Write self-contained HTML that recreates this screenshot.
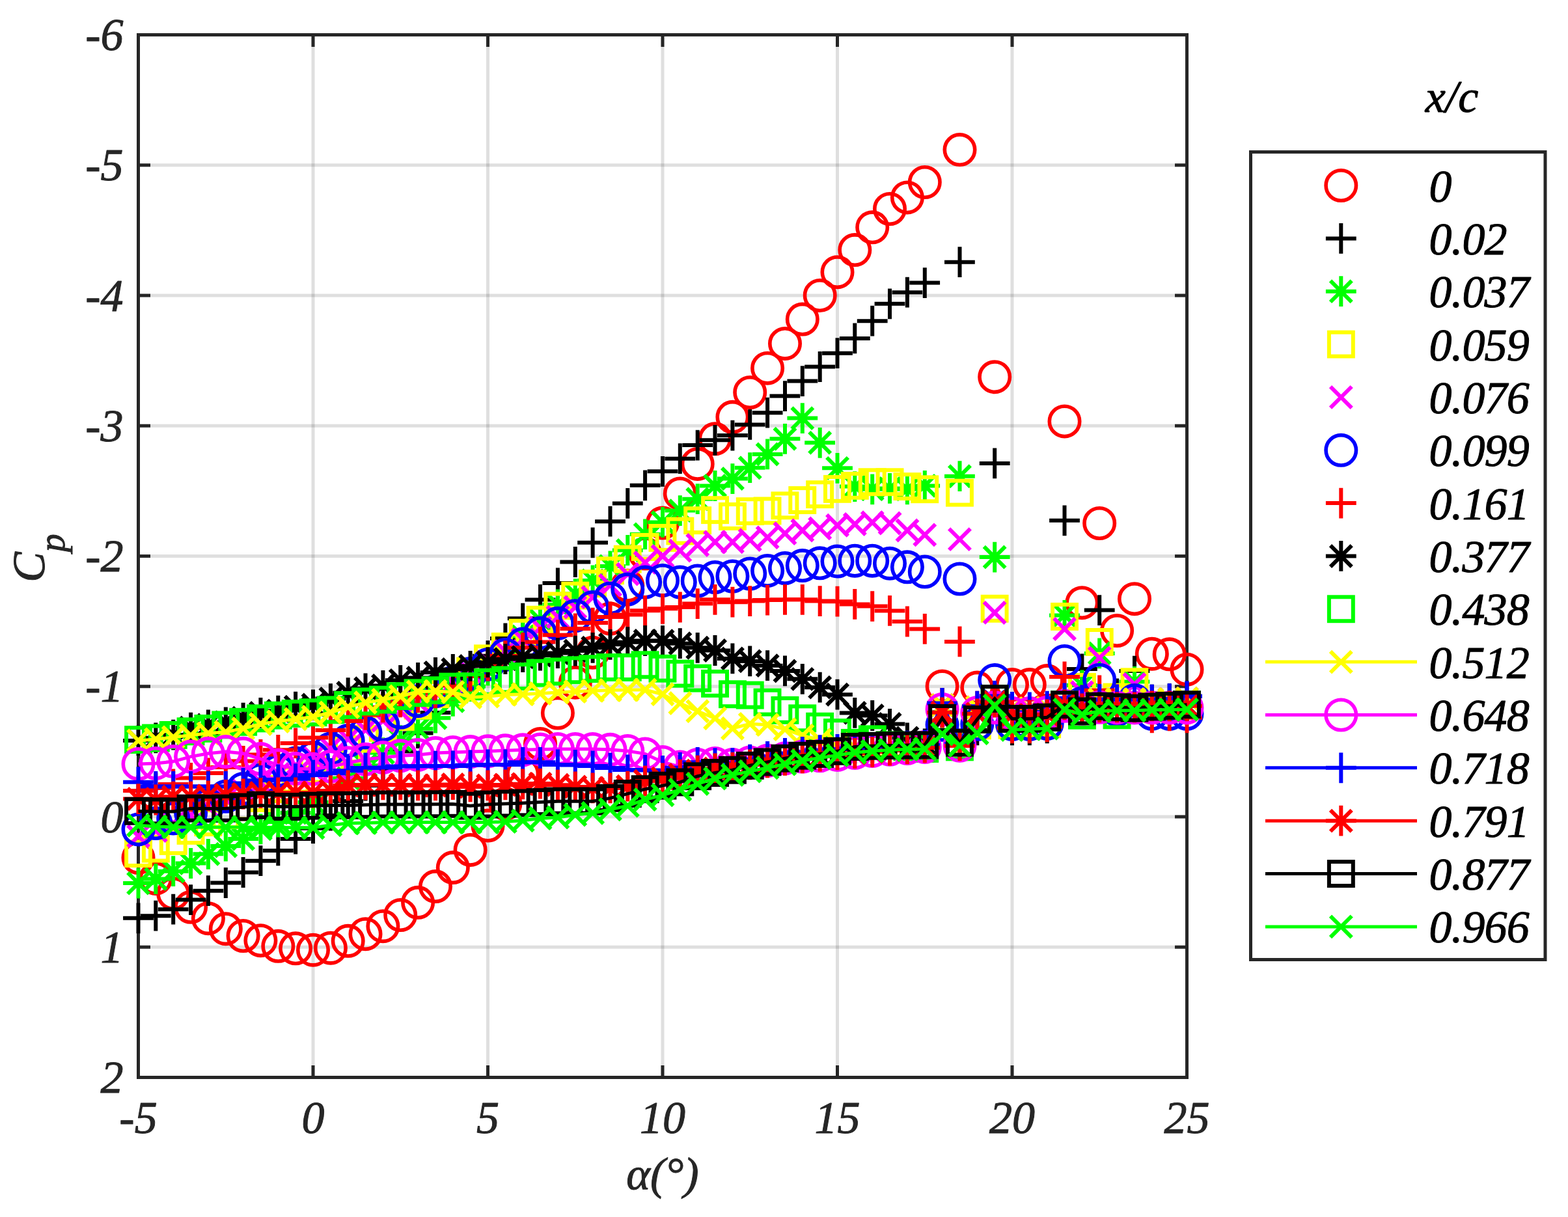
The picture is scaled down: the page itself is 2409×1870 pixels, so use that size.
<!DOCTYPE html>
<html lang="en"><head><meta charset="utf-8"><title>Cp vs alpha</title>
<style>html,body{margin:0;padding:0;background:#fff}svg{display:block}text{font-family:"Liberation Serif", "DejaVu Serif", serif;font-style:italic;stroke-width:1.0px;stroke-linejoin:round}</style></head><body>
<svg width="2409" height="1870" viewBox="0 0 2409 1870">
<rect width="2409" height="1870" fill="#fff"/>
<path d="M481 53.5V1655.5M749.5 53.5V1655.5M1018 53.5V1655.5M1286.5 53.5V1655.5M1555 53.5V1655.5" stroke="#262626" stroke-opacity="0.15" stroke-width="5.0" fill="none"/>
<path d="M212.5 253.8H1823.5M212.5 454H1823.5M212.5 654.2H1823.5M212.5 854.5H1823.5M212.5 1054.8H1823.5M212.5 1255H1823.5M212.5 1455.2H1823.5" stroke="#262626" stroke-opacity="0.15" stroke-width="5.0" fill="none"/>
<path d="M481 1655.5v-18.5M481 53.5v18.5M749.5 1655.5v-18.5M749.5 53.5v18.5M1018 1655.5v-18.5M1018 53.5v18.5M1286.5 1655.5v-18.5M1286.5 53.5v18.5M1555 1655.5v-18.5M1555 53.5v18.5M212.5 253.8h18.5M1823.5 253.8h-18.5M212.5 454h18.5M1823.5 454h-18.5M212.5 654.2h18.5M1823.5 654.2h-18.5M212.5 854.5h18.5M1823.5 854.5h-18.5M212.5 1054.8h18.5M1823.5 1054.8h-18.5M212.5 1255h18.5M1823.5 1255h-18.5M212.5 1455.2h18.5M1823.5 1455.2h-18.5" stroke="#262626" stroke-width="5.0" fill="none"/>
<rect x="212.5" y="53.5" width="1611" height="1602" fill="none" stroke="#262626" stroke-width="5.0"/>
<g fill="#262626" stroke="#262626" font-size="70">
<text x="189.5" y="77" text-anchor="end">-6</text>
<text x="189.5" y="277.2" text-anchor="end">-5</text>
<text x="189.5" y="477.5" text-anchor="end">-4</text>
<text x="189.5" y="677.8" text-anchor="end">-3</text>
<text x="189.5" y="878" text-anchor="end">-2</text>
<text x="189.5" y="1078.2" text-anchor="end">-1</text>
<text x="189.5" y="1278.5" text-anchor="end">0</text>
<text x="189.5" y="1478.8" text-anchor="end">1</text>
<text x="189.5" y="1679" text-anchor="end">2</text>
<text x="212.5" y="1740.6" text-anchor="middle">-5</text>
<text x="481" y="1740.6" text-anchor="middle">0</text>
<text x="749.5" y="1740.6" text-anchor="middle">5</text>
<text x="1018" y="1740.6" text-anchor="middle">10</text>
<text x="1286.5" y="1740.6" text-anchor="middle">15</text>
<text x="1555" y="1740.6" text-anchor="middle">20</text>
<text x="1823.5" y="1740.6" text-anchor="middle">25</text>
</g>
<text x="1018" y="1827" font-size="70" fill="#262626" stroke="#262626" text-anchor="middle">α(°)</text>
<g transform="translate(68,857.5) rotate(-90)" fill="#262626" stroke="#262626"><text x="0" y="0" font-size="70" text-anchor="middle">C<tspan font-size="56" dy="31.4">p</tspan></text></g>
<g stroke="#ff0000" fill="none" stroke-width="6.0">
<circle cx="212.5" cy="1318.1" r="23.2" stroke-width="5.6"/>
<circle cx="239.3" cy="1349.9" r="23.2" stroke-width="5.6"/>
<circle cx="266.2" cy="1373.1" r="23.2" stroke-width="5.6"/>
<circle cx="293.1" cy="1393.8" r="23.2" stroke-width="5.6"/>
<circle cx="319.9" cy="1411.2" r="23.2" stroke-width="5.6"/>
<circle cx="346.8" cy="1427.2" r="23.2" stroke-width="5.6"/>
<circle cx="373.6" cy="1438" r="23.2" stroke-width="5.6"/>
<circle cx="400.4" cy="1445.2" r="23.2" stroke-width="5.6"/>
<circle cx="427.3" cy="1453.8" r="23.2" stroke-width="5.6"/>
<circle cx="454.1" cy="1457.3" r="23.2" stroke-width="5.6"/>
<circle cx="481" cy="1459.7" r="23.2" stroke-width="5.6"/>
<circle cx="507.9" cy="1456.7" r="23.2" stroke-width="5.6"/>
<circle cx="534.7" cy="1445.8" r="23.2" stroke-width="5.6"/>
<circle cx="561.5" cy="1435.2" r="23.2" stroke-width="5.6"/>
<circle cx="588.4" cy="1423.2" r="23.2" stroke-width="5.6"/>
<circle cx="615.2" cy="1406" r="23.2" stroke-width="5.6"/>
<circle cx="642.1" cy="1386.8" r="23.2" stroke-width="5.6"/>
<circle cx="669" cy="1362.1" r="23.2" stroke-width="5.6"/>
<circle cx="695.8" cy="1333.1" r="23.2" stroke-width="5.6"/>
<circle cx="722.6" cy="1305.9" r="23.2" stroke-width="5.6"/>
<circle cx="749.5" cy="1268.6" r="23.2" stroke-width="5.6"/>
<circle cx="776.4" cy="1235" r="23.2" stroke-width="5.6"/>
<circle cx="803.2" cy="1188.9" r="23.2" stroke-width="5.6"/>
<circle cx="830" cy="1142.9" r="23.2" stroke-width="5.6"/>
<circle cx="856.9" cy="1095.6" r="23.2" stroke-width="5.6"/>
<circle cx="883.8" cy="1048.7" r="23.2" stroke-width="5.6"/>
<circle cx="910.6" cy="1002.7" r="23.2" stroke-width="5.6"/>
<circle cx="937.5" cy="950.6" r="23.2" stroke-width="5.6"/>
<circle cx="964.3" cy="899.8" r="23.2" stroke-width="5.6"/>
<circle cx="991.1" cy="850.5" r="23.2" stroke-width="5.6"/>
<circle cx="1018" cy="803.6" r="23.2" stroke-width="5.6"/>
<circle cx="1044.8" cy="758.4" r="23.2" stroke-width="5.6"/>
<circle cx="1071.7" cy="712.9" r="23.2" stroke-width="5.6"/>
<circle cx="1098.5" cy="674.3" r="23.2" stroke-width="5.6"/>
<circle cx="1125.4" cy="640.8" r="23.2" stroke-width="5.6"/>
<circle cx="1152.2" cy="603" r="23.2" stroke-width="5.6"/>
<circle cx="1179.1" cy="565.7" r="23.2" stroke-width="5.6"/>
<circle cx="1206" cy="527.9" r="23.2" stroke-width="5.6"/>
<circle cx="1232.8" cy="490.6" r="23.2" stroke-width="5.6"/>
<circle cx="1259.7" cy="454" r="23.2" stroke-width="5.6"/>
<circle cx="1286.5" cy="418.2" r="23.2" stroke-width="5.6"/>
<circle cx="1313.3" cy="384.1" r="23.2" stroke-width="5.6"/>
<circle cx="1340.2" cy="349.3" r="23.2" stroke-width="5.6"/>
<circle cx="1367" cy="321" r="23.2" stroke-width="5.6"/>
<circle cx="1393.9" cy="303.4" r="23.2" stroke-width="5.6"/>
<circle cx="1420.8" cy="280" r="23.2" stroke-width="5.6"/>
<circle cx="1447.6" cy="1054.5" r="23.2" stroke-width="5.6"/>
<circle cx="1474.5" cy="230.1" r="23.2" stroke-width="5.6"/>
<circle cx="1501.3" cy="1056.6" r="23.2" stroke-width="5.6"/>
<circle cx="1528.2" cy="579.2" r="23.2" stroke-width="5.6"/>
<circle cx="1555" cy="1052.1" r="23.2" stroke-width="5.6"/>
<circle cx="1581.8" cy="1052.1" r="23.2" stroke-width="5.6"/>
<circle cx="1608.7" cy="1046.1" r="23.2" stroke-width="5.6"/>
<circle cx="1635.5" cy="647.4" r="23.2" stroke-width="5.6"/>
<circle cx="1662.4" cy="926.2" r="23.2" stroke-width="5.6"/>
<circle cx="1689.2" cy="804" r="23.2" stroke-width="5.6"/>
<circle cx="1716.1" cy="969" r="23.2" stroke-width="5.6"/>
<circle cx="1743" cy="920.2" r="23.2" stroke-width="5.6"/>
<circle cx="1769.8" cy="1004.7" r="23.2" stroke-width="5.6"/>
<circle cx="1796.7" cy="1005.3" r="23.2" stroke-width="5.6"/>
<circle cx="1823.5" cy="1028.7" r="23.2" stroke-width="5.6"/>
</g>
<g stroke="#000000" fill="none" stroke-width="6.0">
<path d="M189.1 1410.8h46.8M212.5 1387.4v46.8"/>
<path d="M215.9 1407.2h46.8M239.3 1383.8v46.8"/>
<path d="M242.8 1397.2h46.8M266.2 1373.8v46.8"/>
<path d="M269.7 1382.6h46.8M293.1 1359.2v46.8"/>
<path d="M296.5 1368.7h46.8M319.9 1345.3v46.8"/>
<path d="M323.4 1356.5h46.8M346.8 1333.1v46.8"/>
<path d="M350.2 1340.5h46.8M373.6 1317.1v46.8"/>
<path d="M377.1 1322.7h46.8M400.4 1299.3v46.8"/>
<path d="M403.9 1306.9h46.8M427.3 1283.5v46.8"/>
<path d="M430.8 1289h46.8M454.1 1265.6v46.8"/>
<path d="M457.6 1272.8h46.8M481 1249.4v46.8"/>
<path d="M484.5 1253h46.8M507.9 1229.6v46.8"/>
<path d="M511.3 1231h46.8M534.7 1207.6v46.8"/>
<path d="M538.1 1207.1h46.8M561.5 1183.7v46.8"/>
<path d="M565 1181.5h46.8M588.4 1158.1v46.8"/>
<path d="M591.9 1154.6h46.8M615.2 1131.2v46.8"/>
<path d="M618.7 1126.6h46.8M642.1 1103.2v46.8"/>
<path d="M645.6 1095h46.8M669 1071.6v46.8"/>
<path d="M672.4 1063.6h46.8M695.8 1040.2v46.8"/>
<path d="M699.2 1034.7h46.8M722.6 1011.3v46.8"/>
<path d="M726.1 1007.7h46.8M749.5 984.3v46.8"/>
<path d="M753 980.9h46.8M776.4 957.5v46.8"/>
<path d="M779.8 950.2h46.8M803.2 926.8v46.8"/>
<path d="M806.6 921.4h46.8M830 898v46.8"/>
<path d="M833.5 896h46.8M856.9 872.6v46.8"/>
<path d="M860.4 863.5h46.8M883.8 840.1v46.8"/>
<path d="M887.2 833.8h46.8M910.6 810.4v46.8"/>
<path d="M914.1 801.2h46.8M937.5 777.8v46.8"/>
<path d="M940.9 773.4h46.8M964.3 750v46.8"/>
<path d="M967.8 745.8h46.8M991.1 722.4v46.8"/>
<path d="M994.6 724.3h46.8M1018 700.9v46.8"/>
<path d="M1021.4 704.7h46.8M1044.8 681.3v46.8"/>
<path d="M1048.3 684.1h46.8M1071.7 660.7v46.8"/>
<path d="M1075.1 676.3h46.8M1098.5 652.9v46.8"/>
<path d="M1102 669.1h46.8M1125.4 645.7v46.8"/>
<path d="M1128.8 652.4h46.8M1152.2 629v46.8"/>
<path d="M1155.7 634.2h46.8M1179.1 610.8v46.8"/>
<path d="M1182.5 608.6h46.8M1206 585.2v46.8"/>
<path d="M1209.4 585.6h46.8M1232.8 562.2v46.8"/>
<path d="M1236.2 563.5h46.8M1259.7 540.1v46.8"/>
<path d="M1263.1 542.7h46.8M1286.5 519.3v46.8"/>
<path d="M1289.9 519.9h46.8M1313.3 496.5v46.8"/>
<path d="M1316.8 493.2h46.8M1340.2 469.8v46.8"/>
<path d="M1343.6 466.8h46.8M1367 443.4v46.8"/>
<path d="M1370.5 449.2h46.8M1393.9 425.8v46.8"/>
<path d="M1397.3 434.6h46.8M1420.8 411.2v46.8"/>
<path d="M1424.2 1080.4h46.8M1447.6 1057v46.8"/>
<path d="M1451 402.7h46.8M1474.5 379.3v46.8"/>
<path d="M1477.9 1121.8h46.8M1501.3 1098.4v46.8"/>
<path d="M1504.8 711.9h46.8M1528.2 688.5v46.8"/>
<path d="M1531.6 1121.8h46.8M1555 1098.4v46.8"/>
<path d="M1558.4 1121.8h46.8M1581.8 1098.4v46.8"/>
<path d="M1585.3 1118.8h46.8M1608.7 1095.4v46.8"/>
<path d="M1612.1 799.8h46.8M1635.5 776.4v46.8"/>
<path d="M1639 1027.9h46.8M1662.4 1004.5v46.8"/>
<path d="M1665.8 937.6h46.8M1689.2 914.2v46.8"/>
<path d="M1692.7 1065.8h46.8M1716.1 1042.4v46.8"/>
<path d="M1719.5 1031.1h46.8M1743 1007.7v46.8"/>
<path d="M1746.4 1075.2h46.8M1769.8 1051.8v46.8"/>
<path d="M1773.2 1073.6h46.8M1796.7 1050.2v46.8"/>
<path d="M1800.1 1069.8h46.8M1823.5 1046.4v46.8"/>
</g>
<g stroke="#00ff00" fill="none" stroke-width="6.0">
<path d="M189.1 1357.1h46.8M212.5 1333.7v46.8M196.2 1340.8l32.7 32.7M196.2 1373.5l32.7 -32.7"/>
<path d="M215.9 1350.5h46.8M239.3 1327.1v46.8M223 1334.2l32.7 32.7M223 1366.9l32.7 -32.7"/>
<path d="M242.8 1338.7h46.8M266.2 1315.3v46.8M249.9 1322.4l32.7 32.7M249.9 1355l32.7 -32.7"/>
<path d="M269.7 1326.5h46.8M293.1 1303.1v46.8M276.7 1310.2l32.7 32.7M276.7 1342.8l32.7 -32.7"/>
<path d="M296.5 1312.3h46.8M319.9 1288.9v46.8M303.6 1295.9l32.7 32.7M303.6 1328.6l32.7 -32.7"/>
<path d="M323.4 1300h46.8M346.8 1276.6v46.8M330.4 1283.6l32.7 32.7M330.4 1316.3l32.7 -32.7"/>
<path d="M350.2 1289h46.8M373.6 1265.6v46.8M357.3 1272.7l32.7 32.7M357.3 1305.4l32.7 -32.7"/>
<path d="M377.1 1273.8h46.8M400.4 1250.4v46.8M384.1 1257.5l32.7 32.7M384.1 1290.2l32.7 -32.7"/>
<path d="M403.9 1263h46.8M427.3 1239.6v46.8M411 1246.7l32.7 32.7M411 1279.3l32.7 -32.7"/>
<path d="M430.8 1249h46.8M454.1 1225.6v46.8M437.8 1232.7l32.7 32.7M437.8 1265.4l32.7 -32.7"/>
<path d="M457.6 1232.8h46.8M481 1209.4v46.8M464.7 1216.5l32.7 32.7M464.7 1249.1l32.7 -32.7"/>
<path d="M484.5 1214.9h46.8M507.9 1191.5v46.8M491.5 1198.5l32.7 32.7M491.5 1231.2l32.7 -32.7"/>
<path d="M511.3 1195.8h46.8M534.7 1172.4v46.8M518.4 1179.5l32.7 32.7M518.4 1212.2l32.7 -32.7"/>
<path d="M538.1 1176.2h46.8M561.5 1152.8v46.8M545.2 1159.9l32.7 32.7M545.2 1192.6l32.7 -32.7"/>
<path d="M565 1156.7h46.8M588.4 1133.3v46.8M572.1 1140.3l32.7 32.7M572.1 1173l32.7 -32.7"/>
<path d="M591.9 1137.7h46.8M615.2 1114.3v46.8M598.9 1121.3l32.7 32.7M598.9 1154l32.7 -32.7"/>
<path d="M618.7 1119.8h46.8M642.1 1096.4v46.8M625.8 1103.5l32.7 32.7M625.8 1136.2l32.7 -32.7"/>
<path d="M645.6 1103.2h46.8M669 1079.8v46.8M652.6 1086.9l32.7 32.7M652.6 1119.5l32.7 -32.7"/>
<path d="M672.4 1077.4h46.8M695.8 1054v46.8M679.5 1061l32.7 32.7M679.5 1093.7l32.7 -32.7"/>
<path d="M699.2 1054.8h46.8M722.6 1031.3v46.8M706.3 1038.4l32.7 32.7M706.3 1071.1l32.7 -32.7"/>
<path d="M726.1 1030h46.8M749.5 1006.6v46.8M733.2 1013.7l32.7 32.7M733.2 1046.4l32.7 -32.7"/>
<path d="M753 1004h46.8M776.4 980.6v46.8M760 987.7l32.7 32.7M760 1020.3l32.7 -32.7"/>
<path d="M779.8 977.8h46.8M803.2 954.4v46.8M786.9 961.5l32.7 32.7M786.9 994.2l32.7 -32.7"/>
<path d="M806.6 952.6h46.8M830 929.2v46.8M813.7 936.3l32.7 32.7M813.7 969l32.7 -32.7"/>
<path d="M833.5 929h46.8M856.9 905.6v46.8M840.6 912.7l32.7 32.7M840.6 945.3l32.7 -32.7"/>
<path d="M860.4 912.6h46.8M883.8 889.2v46.8M867.4 896.2l32.7 32.7M867.4 928.9l32.7 -32.7"/>
<path d="M887.2 891.9h46.8M910.6 868.5v46.8M894.3 875.6l32.7 32.7M894.3 908.3l32.7 -32.7"/>
<path d="M914.1 869.9h46.8M937.5 846.5v46.8M921.1 853.6l32.7 32.7M921.1 886.3l32.7 -32.7"/>
<path d="M940.9 845.5h46.8M964.3 822.1v46.8M948 829.2l32.7 32.7M948 861.8l32.7 -32.7"/>
<path d="M967.8 820.9h46.8M991.1 797.5v46.8M974.8 804.5l32.7 32.7M974.8 837.2l32.7 -32.7"/>
<path d="M994.6 802.4h46.8M1018 779v46.8M1001.7 786.1l32.7 32.7M1001.7 818.8l32.7 -32.7"/>
<path d="M1021.4 784.6h46.8M1044.8 761.2v46.8M1028.5 768.3l32.7 32.7M1028.5 800.9l32.7 -32.7"/>
<path d="M1048.3 766.7h46.8M1071.7 743.3v46.8M1055.4 750.4l32.7 32.7M1055.4 783l32.7 -32.7"/>
<path d="M1075.1 746.5h46.8M1098.5 723.1v46.8M1082.2 730.1l32.7 32.7M1082.2 762.8l32.7 -32.7"/>
<path d="M1102 735.6h46.8M1125.4 712.2v46.8M1109.1 719.2l32.7 32.7M1109.1 751.9l32.7 -32.7"/>
<path d="M1128.8 718.7h46.8M1152.2 695.3v46.8M1135.9 702.4l32.7 32.7M1135.9 735.1l32.7 -32.7"/>
<path d="M1155.7 697.9h46.8M1179.1 674.5v46.8M1162.8 681.6l32.7 32.7M1162.8 714.2l32.7 -32.7"/>
<path d="M1182.5 674.3h46.8M1206 650.9v46.8M1189.6 657.9l32.7 32.7M1189.6 690.6l32.7 -32.7"/>
<path d="M1209.4 642.6h46.8M1232.8 619.2v46.8M1216.5 626.3l32.7 32.7M1216.5 659l32.7 -32.7"/>
<path d="M1236.2 680.3h46.8M1259.7 656.9v46.8M1243.3 663.9l32.7 32.7M1243.3 696.6l32.7 -32.7"/>
<path d="M1263.1 719.3h46.8M1286.5 695.9v46.8M1270.2 703l32.7 32.7M1270.2 735.7l32.7 -32.7"/>
<path d="M1289.9 747.6h46.8M1313.3 724.2v46.8M1297 731.2l32.7 32.7M1297 763.9l32.7 -32.7"/>
<path d="M1316.8 751.8h46.8M1340.2 728.4v46.8M1323.9 735.4l32.7 32.7M1323.9 768.1l32.7 -32.7"/>
<path d="M1343.6 750.4h46.8M1367 727v46.8M1350.7 734l32.7 32.7M1350.7 766.7l32.7 -32.7"/>
<path d="M1370.5 751.8h46.8M1393.9 728.4v46.8M1377.6 735.4l32.7 32.7M1377.6 768.1l32.7 -32.7"/>
<path d="M1397.3 746.4h46.8M1420.8 723v46.8M1404.4 730l32.7 32.7M1404.4 762.7l32.7 -32.7"/>
<path d="M1424.2 1094.8h46.8M1447.6 1071.4v46.8M1431.3 1078.5l32.7 32.7M1431.3 1111.1l32.7 -32.7"/>
<path d="M1451 731.7h46.8M1474.5 708.3v46.8M1458.1 715.4l32.7 32.7M1458.1 748.1l32.7 -32.7"/>
<path d="M1477.9 1096.8h46.8M1501.3 1073.4v46.8M1485 1080.5l32.7 32.7M1485 1113.1l32.7 -32.7"/>
<path d="M1504.8 856.1h46.8M1528.2 832.7v46.8M1511.8 839.8l32.7 32.7M1511.8 872.4l32.7 -32.7"/>
<path d="M1531.6 1098.8h46.8M1555 1075.4v46.8M1538.7 1082.5l32.7 32.7M1538.7 1115.1l32.7 -32.7"/>
<path d="M1558.4 1098.8h46.8M1581.8 1075.4v46.8M1565.5 1082.5l32.7 32.7M1565.5 1115.1l32.7 -32.7"/>
<path d="M1585.3 1097.8h46.8M1608.7 1074.4v46.8M1592.4 1081.5l32.7 32.7M1592.4 1114.1l32.7 -32.7"/>
<path d="M1612.1 945.4h46.8M1635.5 922v46.8M1619.2 929.1l32.7 32.7M1619.2 961.7l32.7 -32.7"/>
<path d="M1639 1052.9h46.8M1662.4 1029.5v46.8M1646.1 1036.6l32.7 32.7M1646.1 1069.3l32.7 -32.7"/>
<path d="M1665.8 1003.9h46.8M1689.2 980.5v46.8M1672.9 987.6l32.7 32.7M1672.9 1020.2l32.7 -32.7"/>
<path d="M1692.7 1086.8h46.8M1716.1 1063.4v46.8M1699.8 1070.5l32.7 32.7M1699.8 1103.1l32.7 -32.7"/>
<path d="M1719.5 1047.5h46.8M1743 1024.1v46.8M1726.6 1031.2l32.7 32.7M1726.6 1063.9l32.7 -32.7"/>
<path d="M1746.4 1084.8h46.8M1769.8 1061.4v46.8M1753.5 1068.5l32.7 32.7M1753.5 1101.1l32.7 -32.7"/>
<path d="M1773.2 1084.8h46.8M1796.7 1061.4v46.8M1780.3 1068.5l32.7 32.7M1780.3 1101.1l32.7 -32.7"/>
<path d="M1800.1 1084.8h46.8M1823.5 1061.4v46.8M1807.2 1068.5l32.7 32.7M1807.2 1101.1l32.7 -32.7"/>
</g>
<g stroke="#ffff00" fill="none" stroke-width="6.0">
<rect x="194.1" y="1293.2" width="36.9" height="36.9"/>
<rect x="220.9" y="1285.6" width="36.9" height="36.9"/>
<rect x="247.8" y="1274" width="36.9" height="36.9"/>
<rect x="274.6" y="1258" width="36.9" height="36.9"/>
<rect x="301.4" y="1245.2" width="36.9" height="36.9"/>
<rect x="328.3" y="1234.1" width="36.9" height="36.9"/>
<rect x="355.2" y="1221.5" width="36.9" height="36.9"/>
<rect x="382" y="1208.1" width="36.9" height="36.9"/>
<rect x="408.9" y="1194.1" width="36.9" height="36.9"/>
<rect x="435.7" y="1179.6" width="36.9" height="36.9"/>
<rect x="462.6" y="1164.6" width="36.9" height="36.9"/>
<rect x="489.4" y="1149" width="36.9" height="36.9"/>
<rect x="516.2" y="1133.1" width="36.9" height="36.9"/>
<rect x="543.1" y="1116.7" width="36.9" height="36.9"/>
<rect x="569.9" y="1100" width="36.9" height="36.9"/>
<rect x="596.8" y="1082.9" width="36.9" height="36.9"/>
<rect x="623.6" y="1065.7" width="36.9" height="36.9"/>
<rect x="650.5" y="1048.2" width="36.9" height="36.9"/>
<rect x="677.3" y="1030.5" width="36.9" height="36.9"/>
<rect x="704.2" y="1012.7" width="36.9" height="36.9"/>
<rect x="731" y="993.4" width="36.9" height="36.9"/>
<rect x="757.9" y="975" width="36.9" height="36.9"/>
<rect x="784.8" y="953.8" width="36.9" height="36.9"/>
<rect x="811.6" y="933.8" width="36.9" height="36.9"/>
<rect x="838.4" y="912.5" width="36.9" height="36.9"/>
<rect x="865.3" y="896.7" width="36.9" height="36.9"/>
<rect x="892.1" y="878.3" width="36.9" height="36.9"/>
<rect x="919" y="858.3" width="36.9" height="36.9"/>
<rect x="945.8" y="840.7" width="36.9" height="36.9"/>
<rect x="972.7" y="822" width="36.9" height="36.9"/>
<rect x="999.5" y="808" width="36.9" height="36.9"/>
<rect x="1026.4" y="797.6" width="36.9" height="36.9"/>
<rect x="1053.2" y="781.2" width="36.9" height="36.9"/>
<rect x="1080.1" y="765.2" width="36.9" height="36.9"/>
<rect x="1107" y="775" width="36.9" height="36.9"/>
<rect x="1133.8" y="767.2" width="36.9" height="36.9"/>
<rect x="1160.6" y="766.5" width="36.9" height="36.9"/>
<rect x="1187.5" y="758.4" width="36.9" height="36.9"/>
<rect x="1214.3" y="750.1" width="36.9" height="36.9"/>
<rect x="1241.2" y="741.2" width="36.9" height="36.9"/>
<rect x="1268" y="732.9" width="36.9" height="36.9"/>
<rect x="1294.9" y="727.9" width="36.9" height="36.9"/>
<rect x="1321.8" y="722.3" width="36.9" height="36.9"/>
<rect x="1348.6" y="722.3" width="36.9" height="36.9"/>
<rect x="1375.5" y="729.1" width="36.9" height="36.9"/>
<rect x="1402.3" y="733.3" width="36.9" height="36.9"/>
<rect x="1429.1" y="1085" width="36.9" height="36.9"/>
<rect x="1456" y="738.7" width="36.9" height="36.9"/>
<rect x="1482.8" y="1096.4" width="36.9" height="36.9"/>
<rect x="1509.7" y="916.8" width="36.9" height="36.9"/>
<rect x="1536.5" y="1095.8" width="36.9" height="36.9"/>
<rect x="1563.4" y="1095.8" width="36.9" height="36.9"/>
<rect x="1590.2" y="1094.4" width="36.9" height="36.9"/>
<rect x="1617.1" y="929" width="36.9" height="36.9"/>
<rect x="1644" y="1037.1" width="36.9" height="36.9"/>
<rect x="1670.8" y="968" width="36.9" height="36.9"/>
<rect x="1697.6" y="1052.7" width="36.9" height="36.9"/>
<rect x="1724.5" y="1029.3" width="36.9" height="36.9"/>
<rect x="1751.3" y="1067.5" width="36.9" height="36.9"/>
<rect x="1778.2" y="1065.9" width="36.9" height="36.9"/>
<rect x="1805" y="1064.3" width="36.9" height="36.9"/>
</g>
<g stroke="#ff00ff" fill="none" stroke-width="6.0">
<path d="M196.2 1268.5l32.7 32.7M196.2 1301.2l32.7 -32.7"/>
<path d="M223 1260.3l32.7 32.7M223 1293l32.7 -32.7"/>
<path d="M249.9 1248.7l32.7 32.7M249.9 1281.3l32.7 -32.7"/>
<path d="M276.7 1236.3l32.7 32.7M276.7 1269l32.7 -32.7"/>
<path d="M303.6 1223.8l32.7 32.7M303.6 1256.5l32.7 -32.7"/>
<path d="M330.4 1211.3l32.7 32.7M330.4 1243.9l32.7 -32.7"/>
<path d="M357.3 1198.6l32.7 32.7M357.3 1231.3l32.7 -32.7"/>
<path d="M384.1 1185.8l32.7 32.7M384.1 1218.4l32.7 -32.7"/>
<path d="M411 1172.8l32.7 32.7M411 1205.5l32.7 -32.7"/>
<path d="M437.8 1159.7l32.7 32.7M437.8 1192.3l32.7 -32.7"/>
<path d="M464.7 1146.4l32.7 32.7M464.7 1179l32.7 -32.7"/>
<path d="M491.5 1132.9l32.7 32.7M491.5 1165.5l32.7 -32.7"/>
<path d="M518.4 1119.2l32.7 32.7M518.4 1151.8l32.7 -32.7"/>
<path d="M545.2 1105.2l32.7 32.7M545.2 1137.9l32.7 -32.7"/>
<path d="M572.1 1091.1l32.7 32.7M572.1 1123.7l32.7 -32.7"/>
<path d="M598.9 1076.7l32.7 32.7M598.9 1109.3l32.7 -32.7"/>
<path d="M625.8 1062l32.7 32.7M625.8 1094.7l32.7 -32.7"/>
<path d="M652.6 1047.1l32.7 32.7M652.6 1079.8l32.7 -32.7"/>
<path d="M679.5 1031.9l32.7 32.7M679.5 1064.5l32.7 -32.7"/>
<path d="M706.3 1016.3l32.7 32.7M706.3 1049l32.7 -32.7"/>
<path d="M733.2 1000.5l32.7 32.7M733.2 1033.2l32.7 -32.7"/>
<path d="M760 984.3l32.7 32.7M760 1017l32.7 -32.7"/>
<path d="M786.9 966.3l32.7 32.7M786.9 999l32.7 -32.7"/>
<path d="M813.7 948.3l32.7 32.7M813.7 981l32.7 -32.7"/>
<path d="M840.6 931.7l32.7 32.7M840.6 964.4l32.7 -32.7"/>
<path d="M867.4 916.7l32.7 32.7M867.4 949.3l32.7 -32.7"/>
<path d="M894.3 901.4l32.7 32.7M894.3 934.1l32.7 -32.7"/>
<path d="M921.1 883l32.7 32.7M921.1 915.7l32.7 -32.7"/>
<path d="M948 865.8l32.7 32.7M948 898.5l32.7 -32.7"/>
<path d="M974.8 848.2l32.7 32.7M974.8 880.8l32.7 -32.7"/>
<path d="M1001.7 838.2l32.7 32.7M1001.7 870.8l32.7 -32.7"/>
<path d="M1028.5 829.8l32.7 32.7M1028.5 862.4l32.7 -32.7"/>
<path d="M1055.4 821.1l32.7 32.7M1055.4 853.8l32.7 -32.7"/>
<path d="M1082.2 816.5l32.7 32.7M1082.2 849.2l32.7 -32.7"/>
<path d="M1109.1 816.5l32.7 32.7M1109.1 849.2l32.7 -32.7"/>
<path d="M1135.9 813.3l32.7 32.7M1135.9 846l32.7 -32.7"/>
<path d="M1162.8 809.5l32.7 32.7M1162.8 842.2l32.7 -32.7"/>
<path d="M1189.6 803.3l32.7 32.7M1189.6 836l32.7 -32.7"/>
<path d="M1216.5 798.6l32.7 32.7M1216.5 831.3l32.7 -32.7"/>
<path d="M1243.3 795.5l32.7 32.7M1243.3 828.2l32.7 -32.7"/>
<path d="M1270.2 790.9l32.7 32.7M1270.2 823.6l32.7 -32.7"/>
<path d="M1297 789.1l32.7 32.7M1297 821.8l32.7 -32.7"/>
<path d="M1323.9 786.3l32.7 32.7M1323.9 819l32.7 -32.7"/>
<path d="M1350.7 787.7l32.7 32.7M1350.7 820.4l32.7 -32.7"/>
<path d="M1377.6 798.7l32.7 32.7M1377.6 831.4l32.7 -32.7"/>
<path d="M1404.4 805.5l32.7 32.7M1404.4 838.2l32.7 -32.7"/>
<path d="M1431.3 1067.1l32.7 32.7M1431.3 1099.7l32.7 -32.7"/>
<path d="M1458.1 812.3l32.7 32.7M1458.1 845l32.7 -32.7"/>
<path d="M1485 1070.5l32.7 32.7M1485 1103.1l32.7 -32.7"/>
<path d="M1511.8 925.1l32.7 32.7M1511.8 957.7l32.7 -32.7"/>
<path d="M1538.7 1072.5l32.7 32.7M1538.7 1105.1l32.7 -32.7"/>
<path d="M1565.5 1072.5l32.7 32.7M1565.5 1105.1l32.7 -32.7"/>
<path d="M1592.4 1071.5l32.7 32.7M1592.4 1104.1l32.7 -32.7"/>
<path d="M1619.2 950.1l32.7 32.7M1619.2 982.8l32.7 -32.7"/>
<path d="M1646.1 1047.4l32.7 32.7M1646.1 1080.1l32.7 -32.7"/>
<path d="M1672.9 994.6l32.7 32.7M1672.9 1027.2l32.7 -32.7"/>
<path d="M1699.8 1058.4l32.7 32.7M1699.8 1091.1l32.7 -32.7"/>
<path d="M1726.6 1035l32.7 32.7M1726.6 1067.7l32.7 -32.7"/>
<path d="M1753.5 1058.4l32.7 32.7M1753.5 1091.1l32.7 -32.7"/>
<path d="M1780.3 1057.8l32.7 32.7M1780.3 1090.5l32.7 -32.7"/>
<path d="M1807.2 1056.8l32.7 32.7M1807.2 1089.5l32.7 -32.7"/>
</g>
<g stroke="#0000ff" fill="none" stroke-width="6.0">
<circle cx="212.5" cy="1274.4" r="23.2" stroke-width="5.6"/>
<circle cx="239.3" cy="1265" r="23.2" stroke-width="5.6"/>
<circle cx="266.2" cy="1257.4" r="23.2" stroke-width="5.6"/>
<circle cx="293.1" cy="1249" r="23.2" stroke-width="5.6"/>
<circle cx="319.9" cy="1237" r="23.2" stroke-width="5.6"/>
<circle cx="346.8" cy="1223.8" r="23.2" stroke-width="5.6"/>
<circle cx="373.6" cy="1211.9" r="23.2" stroke-width="5.6"/>
<circle cx="400.4" cy="1198.4" r="23.2" stroke-width="5.6"/>
<circle cx="427.3" cy="1184.3" r="23.2" stroke-width="5.6"/>
<circle cx="454.1" cy="1172.4" r="23.2" stroke-width="5.6"/>
<circle cx="481" cy="1164.1" r="23.2" stroke-width="5.6"/>
<circle cx="507.9" cy="1150.5" r="23.2" stroke-width="5.6"/>
<circle cx="534.7" cy="1138.1" r="23.2" stroke-width="5.6"/>
<circle cx="561.5" cy="1125.6" r="23.2" stroke-width="5.6"/>
<circle cx="588.4" cy="1114" r="23.2" stroke-width="5.6"/>
<circle cx="615.2" cy="1094.8" r="23.2" stroke-width="5.6"/>
<circle cx="642.1" cy="1077.2" r="23.2" stroke-width="5.6"/>
<circle cx="669" cy="1062.1" r="23.2" stroke-width="5.6"/>
<circle cx="695.8" cy="1048.4" r="23.2" stroke-width="5.6"/>
<circle cx="722.6" cy="1034.9" r="23.2" stroke-width="5.6"/>
<circle cx="749.5" cy="1020.9" r="23.2" stroke-width="5.6"/>
<circle cx="776.4" cy="1005.9" r="23.2" stroke-width="5.6"/>
<circle cx="803.2" cy="989.5" r="23.2" stroke-width="5.6"/>
<circle cx="830" cy="972.8" r="23.2" stroke-width="5.6"/>
<circle cx="856.9" cy="957.8" r="23.2" stroke-width="5.6"/>
<circle cx="883.8" cy="946.2" r="23.2" stroke-width="5.6"/>
<circle cx="910.6" cy="933" r="23.2" stroke-width="5.6"/>
<circle cx="937.5" cy="919.4" r="23.2" stroke-width="5.6"/>
<circle cx="964.3" cy="905.6" r="23.2" stroke-width="5.6"/>
<circle cx="991.1" cy="894.6" r="23.2" stroke-width="5.6"/>
<circle cx="1018" cy="891.9" r="23.2" stroke-width="5.6"/>
<circle cx="1044.8" cy="894.6" r="23.2" stroke-width="5.6"/>
<circle cx="1071.7" cy="892.5" r="23.2" stroke-width="5.6"/>
<circle cx="1098.5" cy="887" r="23.2" stroke-width="5.6"/>
<circle cx="1125.4" cy="885.5" r="23.2" stroke-width="5.6"/>
<circle cx="1152.2" cy="881.5" r="23.2" stroke-width="5.6"/>
<circle cx="1179.1" cy="876.9" r="23.2" stroke-width="5.6"/>
<circle cx="1206" cy="873" r="23.2" stroke-width="5.6"/>
<circle cx="1232.8" cy="869.1" r="23.2" stroke-width="5.6"/>
<circle cx="1259.7" cy="865.3" r="23.2" stroke-width="5.6"/>
<circle cx="1286.5" cy="862.5" r="23.2" stroke-width="5.6"/>
<circle cx="1313.3" cy="861.7" r="23.2" stroke-width="5.6"/>
<circle cx="1340.2" cy="861.7" r="23.2" stroke-width="5.6"/>
<circle cx="1367" cy="865.7" r="23.2" stroke-width="5.6"/>
<circle cx="1393.9" cy="871.3" r="23.2" stroke-width="5.6"/>
<circle cx="1420.8" cy="878.5" r="23.2" stroke-width="5.6"/>
<circle cx="1447.6" cy="1113.8" r="23.2" stroke-width="5.6"/>
<circle cx="1474.5" cy="889.5" r="23.2" stroke-width="5.6"/>
<circle cx="1501.3" cy="1112.8" r="23.2" stroke-width="5.6"/>
<circle cx="1528.2" cy="1045.1" r="23.2" stroke-width="5.6"/>
<circle cx="1555" cy="1112.8" r="23.2" stroke-width="5.6"/>
<circle cx="1581.8" cy="1112.8" r="23.2" stroke-width="5.6"/>
<circle cx="1608.7" cy="1111.8" r="23.2" stroke-width="5.6"/>
<circle cx="1635.5" cy="1015.9" r="23.2" stroke-width="5.6"/>
<circle cx="1662.4" cy="1080.6" r="23.2" stroke-width="5.6"/>
<circle cx="1689.2" cy="1044.7" r="23.2" stroke-width="5.6"/>
<circle cx="1716.1" cy="1090.8" r="23.2" stroke-width="5.6"/>
<circle cx="1743" cy="1076" r="23.2" stroke-width="5.6"/>
<circle cx="1769.8" cy="1096.8" r="23.2" stroke-width="5.6"/>
<circle cx="1796.7" cy="1096.8" r="23.2" stroke-width="5.6"/>
<circle cx="1823.5" cy="1096.8" r="23.2" stroke-width="5.6"/>
</g>
<g stroke="#ff0000" fill="none" stroke-width="6.0">
<path d="M189.1 1215h46.8M212.5 1191.5v46.8"/>
<path d="M215.9 1211.1h46.8M239.3 1187.7v46.8"/>
<path d="M242.8 1204.9h46.8M266.2 1181.5v46.8"/>
<path d="M269.7 1195.5h46.8M293.1 1172.1v46.8"/>
<path d="M296.5 1187.9h46.8M319.9 1164.5v46.8"/>
<path d="M323.4 1179.1h46.8M346.8 1155.7v46.8"/>
<path d="M350.2 1169.5h46.8M373.6 1146.1v46.8"/>
<path d="M377.1 1159.5h46.8M400.4 1136.1v46.8"/>
<path d="M403.9 1152.3h46.8M427.3 1128.9v46.8"/>
<path d="M430.8 1141.9h46.8M454.1 1118.5v46.8"/>
<path d="M457.6 1133.6h46.8M481 1110.2v46.8"/>
<path d="M484.5 1122h46.8M507.9 1098.6v46.8"/>
<path d="M511.3 1108.1h46.8M534.7 1084.7v46.8"/>
<path d="M538.1 1098.4h46.8M561.5 1075v46.8"/>
<path d="M565 1086.8h46.8M588.4 1063.4v46.8"/>
<path d="M591.9 1078.8h46.8M615.2 1055.4v46.8"/>
<path d="M618.7 1071.8h46.8M642.1 1048.4v46.8"/>
<path d="M645.6 1064.8h46.8M669 1041.4v46.8"/>
<path d="M672.4 1053.6h46.8M695.8 1030.2v46.8"/>
<path d="M699.2 1039h46.8M722.6 1015.6v46.8"/>
<path d="M726.1 1023h46.8M749.5 999.6v46.8"/>
<path d="M753 1007.7h46.8M776.4 984.3v46.8"/>
<path d="M779.8 995.3h46.8M803.2 971.9v46.8"/>
<path d="M806.6 986.5h46.8M830 963.1v46.8"/>
<path d="M833.5 975.7h46.8M856.9 952.3v46.8"/>
<path d="M860.4 966h46.8M883.8 942.6v46.8"/>
<path d="M887.2 957.1h46.8M910.6 933.7v46.8"/>
<path d="M914.1 947.9h46.8M937.5 924.5v46.8"/>
<path d="M940.9 944.5h46.8M964.3 921.1v46.8"/>
<path d="M967.8 938.3h46.8M991.1 914.9v46.8"/>
<path d="M994.6 935.3h46.8M1018 911.9v46.8"/>
<path d="M1021.4 933h46.8M1044.8 909.6v46.8"/>
<path d="M1048.3 927.6h46.8M1071.7 904.2v46.8"/>
<path d="M1075.1 921.3h46.8M1098.5 897.9v46.8"/>
<path d="M1102 925.2h46.8M1125.4 901.8v46.8"/>
<path d="M1128.8 923.6h46.8M1152.2 900.2v46.8"/>
<path d="M1155.7 922.1h46.8M1179.1 898.7v46.8"/>
<path d="M1182.5 921.3h46.8M1206 897.9v46.8"/>
<path d="M1209.4 921.3h46.8M1232.8 897.9v46.8"/>
<path d="M1236.2 923.6h46.8M1259.7 900.2v46.8"/>
<path d="M1263.1 924.2h46.8M1286.5 900.8v46.8"/>
<path d="M1289.9 928.4h46.8M1313.3 905v46.8"/>
<path d="M1316.8 931.6h46.8M1340.2 908.2v46.8"/>
<path d="M1343.6 938.4h46.8M1367 915v46.8"/>
<path d="M1370.5 955h46.8M1393.9 931.6v46.8"/>
<path d="M1397.3 966.4h46.8M1420.8 943v46.8"/>
<path d="M1424.2 1080.4h46.8M1447.6 1057v46.8"/>
<path d="M1451 985.9h46.8M1474.5 962.5v46.8"/>
<path d="M1477.9 1085.2h46.8M1501.3 1061.8v46.8"/>
<path d="M1504.8 1069.4h46.8M1528.2 1046v46.8"/>
<path d="M1531.6 1118.8h46.8M1555 1095.4v46.8"/>
<path d="M1558.4 1118.8h46.8M1581.8 1095.4v46.8"/>
<path d="M1585.3 1116.8h46.8M1608.7 1093.4v46.8"/>
<path d="M1612.1 1039.9h46.8M1635.5 1016.5v46.8"/>
<path d="M1639 1075.8h46.8M1662.4 1052.4v46.8"/>
<path d="M1665.8 1060.8h46.8M1689.2 1037.4v46.8"/>
<path d="M1692.7 1074.8h46.8M1716.1 1051.4v46.8"/>
<path d="M1719.5 1074.8h46.8M1743 1051.4v46.8"/>
<path d="M1746.4 1102.8h46.8M1769.8 1079.4v46.8"/>
<path d="M1773.2 1099.8h46.8M1796.7 1076.4v46.8"/>
<path d="M1800.1 1102.8h46.8M1823.5 1079.4v46.8"/>
</g>
<g stroke="#000000" fill="none" stroke-width="6.0">
<path d="M189.1 1137.9h46.8M212.5 1114.5v46.8M196.2 1121.5l32.7 32.7M196.2 1154.2l32.7 -32.7"/>
<path d="M215.9 1133.8h46.8M239.3 1110.4v46.8M223 1117.5l32.7 32.7M223 1150.2l32.7 -32.7"/>
<path d="M242.8 1129.2h46.8M266.2 1105.8v46.8M249.9 1112.9l32.7 32.7M249.9 1145.6l32.7 -32.7"/>
<path d="M269.7 1118.2h46.8M293.1 1094.8v46.8M276.7 1101.9l32.7 32.7M276.7 1134.6l32.7 -32.7"/>
<path d="M296.5 1114h46.8M319.9 1090.6v46.8M303.6 1097.7l32.7 32.7M303.6 1130.4l32.7 -32.7"/>
<path d="M323.4 1110h46.8M346.8 1086.6v46.8M330.4 1093.7l32.7 32.7M330.4 1126.4l32.7 -32.7"/>
<path d="M350.2 1103.2h46.8M373.6 1079.8v46.8M357.3 1086.9l32.7 32.7M357.3 1119.5l32.7 -32.7"/>
<path d="M377.1 1095.4h46.8M400.4 1072v46.8M384.1 1079.1l32.7 32.7M384.1 1111.7l32.7 -32.7"/>
<path d="M403.9 1092.2h46.8M427.3 1068.8v46.8M411 1075.9l32.7 32.7M411 1108.5l32.7 -32.7"/>
<path d="M430.8 1086.2h46.8M454.1 1062.8v46.8M437.8 1069.9l32.7 32.7M437.8 1102.5l32.7 -32.7"/>
<path d="M457.6 1083h46.8M481 1059.6v46.8M464.7 1066.7l32.7 32.7M464.7 1099.3l32.7 -32.7"/>
<path d="M484.5 1073.6h46.8M507.9 1050.2v46.8M491.5 1057.2l32.7 32.7M491.5 1089.9l32.7 -32.7"/>
<path d="M511.3 1064.6h46.8M534.7 1041.2v46.8M518.4 1048.2l32.7 32.7M518.4 1080.9l32.7 -32.7"/>
<path d="M538.1 1057.8h46.8M561.5 1034.4v46.8M545.2 1041.4l32.7 32.7M545.2 1074.1l32.7 -32.7"/>
<path d="M565 1053.5h46.8M588.4 1030.1v46.8M572.1 1037.2l32.7 32.7M572.1 1069.9l32.7 -32.7"/>
<path d="M591.9 1045.3h46.8M615.2 1021.9v46.8M598.9 1029l32.7 32.7M598.9 1061.7l32.7 -32.7"/>
<path d="M618.7 1041.5h46.8M642.1 1018.1v46.8M625.8 1025.2l32.7 32.7M625.8 1057.9l32.7 -32.7"/>
<path d="M645.6 1033.3h46.8M669 1009.9v46.8M652.6 1017l32.7 32.7M652.6 1049.7l32.7 -32.7"/>
<path d="M672.4 1028.5h46.8M695.8 1005.1v46.8M679.5 1012.2l32.7 32.7M679.5 1044.9l32.7 -32.7"/>
<path d="M699.2 1023.3h46.8M722.6 999.9v46.8M706.3 1007l32.7 32.7M706.3 1039.6l32.7 -32.7"/>
<path d="M726.1 1017.7h46.8M749.5 994.3v46.8M733.2 1001.4l32.7 32.7M733.2 1034l32.7 -32.7"/>
<path d="M753 1012.7h46.8M776.4 989.3v46.8M760 996.4l32.7 32.7M760 1029l32.7 -32.7"/>
<path d="M779.8 1009.7h46.8M803.2 986.3v46.8M786.9 993.4l32.7 32.7M786.9 1026l32.7 -32.7"/>
<path d="M806.6 1007.1h46.8M830 983.7v46.8M813.7 990.8l32.7 32.7M813.7 1023.4l32.7 -32.7"/>
<path d="M833.5 1003.5h46.8M856.9 980.1v46.8M840.6 987.2l32.7 32.7M840.6 1019.8l32.7 -32.7"/>
<path d="M860.4 1000.1h46.8M883.8 976.7v46.8M867.4 983.7l32.7 32.7M867.4 1016.4l32.7 -32.7"/>
<path d="M887.2 995.3h46.8M910.6 971.9v46.8M894.3 978.9l32.7 32.7M894.3 1011.6l32.7 -32.7"/>
<path d="M914.1 990.3h46.8M937.5 966.9v46.8M921.1 973.9l32.7 32.7M921.1 1006.6l32.7 -32.7"/>
<path d="M940.9 986.7h46.8M964.3 963.3v46.8M948 970.3l32.7 32.7M948 1003l32.7 -32.7"/>
<path d="M967.8 984.5h46.8M991.1 961.1v46.8M974.8 968.1l32.7 32.7M974.8 1000.8l32.7 -32.7"/>
<path d="M994.6 984.7h46.8M1018 961.3v46.8M1001.7 968.3l32.7 32.7M1001.7 1001l32.7 -32.7"/>
<path d="M1021.4 988.7h46.8M1044.8 965.3v46.8M1028.5 972.3l32.7 32.7M1028.5 1005l32.7 -32.7"/>
<path d="M1048.3 995.3h46.8M1071.7 971.9v46.8M1055.4 978.9l32.7 32.7M1055.4 1011.6l32.7 -32.7"/>
<path d="M1075.1 999.5h46.8M1098.5 976.1v46.8M1082.2 983.1l32.7 32.7M1082.2 1015.8l32.7 -32.7"/>
<path d="M1102 1011.9h46.8M1125.4 988.5v46.8M1109.1 995.6l32.7 32.7M1109.1 1028.2l32.7 -32.7"/>
<path d="M1128.8 1015.9h46.8M1152.2 992.5v46.8M1135.9 999.6l32.7 32.7M1135.9 1032.2l32.7 -32.7"/>
<path d="M1155.7 1022.7h46.8M1179.1 999.3v46.8M1162.8 1006.4l32.7 32.7M1162.8 1039l32.7 -32.7"/>
<path d="M1182.5 1030.9h46.8M1206 1007.5v46.8M1189.6 1014.6l32.7 32.7M1189.6 1047.3l32.7 -32.7"/>
<path d="M1209.4 1043.3h46.8M1232.8 1019.9v46.8M1216.5 1027l32.7 32.7M1216.5 1059.7l32.7 -32.7"/>
<path d="M1236.2 1056.2h46.8M1259.7 1032.8v46.8M1243.3 1039.8l32.7 32.7M1243.3 1072.5l32.7 -32.7"/>
<path d="M1263.1 1067.2h46.8M1286.5 1043.8v46.8M1270.2 1050.9l32.7 32.7M1270.2 1083.6l32.7 -32.7"/>
<path d="M1289.9 1095.4h46.8M1313.3 1072v46.8M1297 1079.1l32.7 32.7M1297 1111.7l32.7 -32.7"/>
<path d="M1316.8 1099.5h46.8M1340.2 1076.1v46.8M1323.9 1083.2l32.7 32.7M1323.9 1115.8l32.7 -32.7"/>
<path d="M1343.6 1112.5h46.8M1367 1089.1v46.8M1350.7 1096.2l32.7 32.7M1350.7 1128.9l32.7 -32.7"/>
<path d="M1370.5 1133.8h46.8M1393.9 1110.4v46.8M1377.6 1117.5l32.7 32.7M1377.6 1150.2l32.7 -32.7"/>
<path d="M1397.3 1142.9h46.8M1420.8 1119.5v46.8M1404.4 1126.5l32.7 32.7M1404.4 1159.2l32.7 -32.7"/>
<path d="M1424.2 1094.8h46.8M1447.6 1071.4v46.8M1431.3 1078.5l32.7 32.7M1431.3 1111.1l32.7 -32.7"/>
<path d="M1451 1145.9h46.8M1474.5 1122.5v46.8M1458.1 1129.5l32.7 32.7M1458.1 1162.2l32.7 -32.7"/>
<path d="M1477.9 1096.8h46.8M1501.3 1073.4v46.8M1485 1080.5l32.7 32.7M1485 1113.1l32.7 -32.7"/>
<path d="M1504.8 1078.8h46.8M1528.2 1055.4v46.8M1511.8 1062.4l32.7 32.7M1511.8 1095.1l32.7 -32.7"/>
<path d="M1531.6 1098.8h46.8M1555 1075.4v46.8M1538.7 1082.5l32.7 32.7M1538.7 1115.1l32.7 -32.7"/>
<path d="M1558.4 1098.8h46.8M1581.8 1075.4v46.8M1565.5 1082.5l32.7 32.7M1565.5 1115.1l32.7 -32.7"/>
<path d="M1585.3 1097.8h46.8M1608.7 1074.4v46.8M1592.4 1081.5l32.7 32.7M1592.4 1114.1l32.7 -32.7"/>
<path d="M1612.1 1082.8h46.8M1635.5 1059.4v46.8M1619.2 1066.5l32.7 32.7M1619.2 1099.1l32.7 -32.7"/>
<path d="M1639 1088.8h46.8M1662.4 1065.4v46.8M1646.1 1072.5l32.7 32.7M1646.1 1105.1l32.7 -32.7"/>
<path d="M1665.8 1086.8h46.8M1689.2 1063.4v46.8M1672.9 1070.5l32.7 32.7M1672.9 1103.1l32.7 -32.7"/>
<path d="M1692.7 1086.8h46.8M1716.1 1063.4v46.8M1699.8 1070.5l32.7 32.7M1699.8 1103.1l32.7 -32.7"/>
<path d="M1719.5 1086.8h46.8M1743 1063.4v46.8M1726.6 1070.5l32.7 32.7M1726.6 1103.1l32.7 -32.7"/>
<path d="M1746.4 1084.8h46.8M1769.8 1061.4v46.8M1753.5 1068.5l32.7 32.7M1753.5 1101.1l32.7 -32.7"/>
<path d="M1773.2 1084.8h46.8M1796.7 1061.4v46.8M1780.3 1068.5l32.7 32.7M1780.3 1101.1l32.7 -32.7"/>
<path d="M1800.1 1084.8h46.8M1823.5 1061.4v46.8M1807.2 1068.5l32.7 32.7M1807.2 1101.1l32.7 -32.7"/>
</g>
<g stroke="#00ff00" fill="none" stroke-width="6.0">
<rect x="194.1" y="1118.2" width="36.9" height="36.9"/>
<rect x="220.9" y="1115.6" width="36.9" height="36.9"/>
<rect x="247.8" y="1111" width="36.9" height="36.9"/>
<rect x="274.6" y="1105.4" width="36.9" height="36.9"/>
<rect x="301.4" y="1101" width="36.9" height="36.9"/>
<rect x="328.3" y="1095.4" width="36.9" height="36.9"/>
<rect x="355.2" y="1090.8" width="36.9" height="36.9"/>
<rect x="382" y="1085.4" width="36.9" height="36.9"/>
<rect x="408.9" y="1080.8" width="36.9" height="36.9"/>
<rect x="435.7" y="1078" width="36.9" height="36.9"/>
<rect x="462.6" y="1076.3" width="36.9" height="36.9"/>
<rect x="489.4" y="1072.4" width="36.9" height="36.9"/>
<rect x="516.2" y="1064.9" width="36.9" height="36.9"/>
<rect x="543.1" y="1059.5" width="36.9" height="36.9"/>
<rect x="569.9" y="1056.7" width="36.9" height="36.9"/>
<rect x="596.8" y="1051.2" width="36.9" height="36.9"/>
<rect x="623.6" y="1046.3" width="36.9" height="36.9"/>
<rect x="650.5" y="1042.3" width="36.9" height="36.9"/>
<rect x="677.3" y="1036.7" width="36.9" height="36.9"/>
<rect x="704.2" y="1036.3" width="36.9" height="36.9"/>
<rect x="731" y="1029.9" width="36.9" height="36.9"/>
<rect x="757.9" y="1026.5" width="36.9" height="36.9"/>
<rect x="784.8" y="1021.1" width="36.9" height="36.9"/>
<rect x="811.6" y="1015.7" width="36.9" height="36.9"/>
<rect x="838.4" y="1013.5" width="36.9" height="36.9"/>
<rect x="865.3" y="1011.3" width="36.9" height="36.9"/>
<rect x="892.1" y="1009.3" width="36.9" height="36.9"/>
<rect x="919" y="1007.1" width="36.9" height="36.9"/>
<rect x="945.8" y="1007.1" width="36.9" height="36.9"/>
<rect x="972.7" y="1003.3" width="36.9" height="36.9"/>
<rect x="999.5" y="1008.8" width="36.9" height="36.9"/>
<rect x="1026.4" y="1016.7" width="36.9" height="36.9"/>
<rect x="1053.2" y="1023.7" width="36.9" height="36.9"/>
<rect x="1080.1" y="1031.9" width="36.9" height="36.9"/>
<rect x="1107" y="1048.3" width="36.9" height="36.9"/>
<rect x="1133.8" y="1049.7" width="36.9" height="36.9"/>
<rect x="1160.6" y="1060.7" width="36.9" height="36.9"/>
<rect x="1187.5" y="1072.9" width="36.9" height="36.9"/>
<rect x="1214.3" y="1085.4" width="36.9" height="36.9"/>
<rect x="1241.2" y="1097.8" width="36.9" height="36.9"/>
<rect x="1268" y="1107.2" width="36.9" height="36.9"/>
<rect x="1294.9" y="1123" width="36.9" height="36.9"/>
<rect x="1321.8" y="1117.4" width="36.9" height="36.9"/>
<rect x="1348.6" y="1126.4" width="36.9" height="36.9"/>
<rect x="1375.5" y="1129.4" width="36.9" height="36.9"/>
<rect x="1402.3" y="1132" width="36.9" height="36.9"/>
<rect x="1429.1" y="1085" width="36.9" height="36.9"/>
<rect x="1456" y="1129.4" width="36.9" height="36.9"/>
<rect x="1482.8" y="1087" width="36.9" height="36.9"/>
<rect x="1509.7" y="1055.1" width="36.9" height="36.9"/>
<rect x="1536.5" y="1086" width="36.9" height="36.9"/>
<rect x="1563.4" y="1086" width="36.9" height="36.9"/>
<rect x="1590.2" y="1083.8" width="36.9" height="36.9"/>
<rect x="1617.1" y="1064.3" width="36.9" height="36.9"/>
<rect x="1644" y="1080.8" width="36.9" height="36.9"/>
<rect x="1670.8" y="1066.7" width="36.9" height="36.9"/>
<rect x="1697.6" y="1080.4" width="36.9" height="36.9"/>
<rect x="1724.5" y="1069.7" width="36.9" height="36.9"/>
<rect x="1751.3" y="1067.5" width="36.9" height="36.9"/>
<rect x="1778.2" y="1065.9" width="36.9" height="36.9"/>
<rect x="1805" y="1064.3" width="36.9" height="36.9"/>
</g>
<g stroke="#ffff00" fill="none" stroke-width="6.0">
<polyline stroke-width="5.0" points="212.5,1137.9 239.3,1135.9 266.2,1132.8 293.1,1129.8 319.9,1126.8 346.8,1124.8 373.6,1119.4 400.4,1112.5 427.3,1108.4 454.1,1105 481,1101.5 507.9,1094.8 534.7,1086.4 561.5,1079.6 588.4,1075.4 615.2,1070 642.1,1062.8 669,1062 695.8,1063.4 722.6,1071.6 749.5,1070.2 776.4,1067.4 803.2,1066.8 830,1065.5 856.9,1064 883.8,1062.6 910.6,1061.4 937.5,1060.4 964.3,1060 991.1,1060 1018,1066.8 1044.8,1080.6 1071.7,1092.8 1098.5,1103.8 1125.4,1119.2 1152.2,1112.3 1179.1,1113.7 1206,1120.6 1232.8,1130.2 1259.7,1137.1 1286.5,1143.3 1313.3,1148.9 1340.2,1150.9 1367,1150.8 1393.9,1150.3 1420.8,1148.9 1447.6,1083.4 1474.5,1147.9 1501.3,1086.8 1528.2,1084.2 1555,1088.8 1581.8,1088.8 1608.7,1087.8 1635.5,1090.2 1662.4,1078.8 1689.2,1074.8 1716.1,1074.8 1743,1074.8 1769.8,1074.8 1796.7,1074.2 1823.5,1073.2"/>
<path d="M196.2 1121.5l32.7 32.7M196.2 1154.2l32.7 -32.7"/>
<path d="M223 1119.5l32.7 32.7M223 1152.2l32.7 -32.7"/>
<path d="M249.9 1116.5l32.7 32.7M249.9 1149.2l32.7 -32.7"/>
<path d="M276.7 1113.5l32.7 32.7M276.7 1146.2l32.7 -32.7"/>
<path d="M303.6 1110.5l32.7 32.7M303.6 1143.2l32.7 -32.7"/>
<path d="M330.4 1108.5l32.7 32.7M330.4 1141.2l32.7 -32.7"/>
<path d="M357.3 1103.1l32.7 32.7M357.3 1135.8l32.7 -32.7"/>
<path d="M384.1 1096.2l32.7 32.7M384.1 1128.8l32.7 -32.7"/>
<path d="M411 1092.1l32.7 32.7M411 1124.8l32.7 -32.7"/>
<path d="M437.8 1088.7l32.7 32.7M437.8 1121.3l32.7 -32.7"/>
<path d="M464.7 1085.2l32.7 32.7M464.7 1117.8l32.7 -32.7"/>
<path d="M491.5 1078.5l32.7 32.7M491.5 1111.1l32.7 -32.7"/>
<path d="M518.4 1070.1l32.7 32.7M518.4 1102.7l32.7 -32.7"/>
<path d="M545.2 1063.2l32.7 32.7M545.2 1095.9l32.7 -32.7"/>
<path d="M572.1 1059l32.7 32.7M572.1 1091.7l32.7 -32.7"/>
<path d="M598.9 1053.6l32.7 32.7M598.9 1086.3l32.7 -32.7"/>
<path d="M625.8 1046.4l32.7 32.7M625.8 1079.1l32.7 -32.7"/>
<path d="M652.6 1045.6l32.7 32.7M652.6 1078.3l32.7 -32.7"/>
<path d="M679.5 1047l32.7 32.7M679.5 1079.7l32.7 -32.7"/>
<path d="M706.3 1055.2l32.7 32.7M706.3 1087.9l32.7 -32.7"/>
<path d="M733.2 1053.8l32.7 32.7M733.2 1086.5l32.7 -32.7"/>
<path d="M760 1051l32.7 32.7M760 1083.7l32.7 -32.7"/>
<path d="M786.9 1050.4l32.7 32.7M786.9 1083.1l32.7 -32.7"/>
<path d="M813.7 1049.2l32.7 32.7M813.7 1081.8l32.7 -32.7"/>
<path d="M840.6 1047.6l32.7 32.7M840.6 1080.3l32.7 -32.7"/>
<path d="M867.4 1046.2l32.7 32.7M867.4 1078.9l32.7 -32.7"/>
<path d="M894.3 1045l32.7 32.7M894.3 1077.7l32.7 -32.7"/>
<path d="M921.1 1044.1l32.7 32.7M921.1 1076.8l32.7 -32.7"/>
<path d="M948 1043.6l32.7 32.7M948 1076.3l32.7 -32.7"/>
<path d="M974.8 1043.6l32.7 32.7M974.8 1076.3l32.7 -32.7"/>
<path d="M1001.7 1050.4l32.7 32.7M1001.7 1083.1l32.7 -32.7"/>
<path d="M1028.5 1064.2l32.7 32.7M1028.5 1096.9l32.7 -32.7"/>
<path d="M1055.4 1076.5l32.7 32.7M1055.4 1109.1l32.7 -32.7"/>
<path d="M1082.2 1087.5l32.7 32.7M1082.2 1120.1l32.7 -32.7"/>
<path d="M1109.1 1102.9l32.7 32.7M1109.1 1135.6l32.7 -32.7"/>
<path d="M1135.9 1096l32.7 32.7M1135.9 1128.7l32.7 -32.7"/>
<path d="M1162.8 1097.4l32.7 32.7M1162.8 1130l32.7 -32.7"/>
<path d="M1189.6 1104.3l32.7 32.7M1189.6 1137l32.7 -32.7"/>
<path d="M1216.5 1113.9l32.7 32.7M1216.5 1146.6l32.7 -32.7"/>
<path d="M1243.3 1120.7l32.7 32.7M1243.3 1153.4l32.7 -32.7"/>
<path d="M1270.2 1126.9l32.7 32.7M1270.2 1159.6l32.7 -32.7"/>
<path d="M1297 1132.5l32.7 32.7M1297 1165.2l32.7 -32.7"/>
<path d="M1323.9 1134.5l32.7 32.7M1323.9 1167.2l32.7 -32.7"/>
<path d="M1350.7 1134.5l32.7 32.7M1350.7 1167.1l32.7 -32.7"/>
<path d="M1377.6 1133.9l32.7 32.7M1377.6 1166.6l32.7 -32.7"/>
<path d="M1404.4 1132.5l32.7 32.7M1404.4 1165.2l32.7 -32.7"/>
<path d="M1431.3 1067.1l32.7 32.7M1431.3 1099.7l32.7 -32.7"/>
<path d="M1458.1 1131.5l32.7 32.7M1458.1 1164.2l32.7 -32.7"/>
<path d="M1485 1070.5l32.7 32.7M1485 1103.1l32.7 -32.7"/>
<path d="M1511.8 1067.9l32.7 32.7M1511.8 1100.5l32.7 -32.7"/>
<path d="M1538.7 1072.5l32.7 32.7M1538.7 1105.1l32.7 -32.7"/>
<path d="M1565.5 1072.5l32.7 32.7M1565.5 1105.1l32.7 -32.7"/>
<path d="M1592.4 1071.5l32.7 32.7M1592.4 1104.1l32.7 -32.7"/>
<path d="M1619.2 1073.9l32.7 32.7M1619.2 1106.5l32.7 -32.7"/>
<path d="M1646.1 1062.4l32.7 32.7M1646.1 1095.1l32.7 -32.7"/>
<path d="M1672.9 1058.4l32.7 32.7M1672.9 1091.1l32.7 -32.7"/>
<path d="M1699.8 1058.4l32.7 32.7M1699.8 1091.1l32.7 -32.7"/>
<path d="M1726.6 1058.4l32.7 32.7M1726.6 1091.1l32.7 -32.7"/>
<path d="M1753.5 1058.4l32.7 32.7M1753.5 1091.1l32.7 -32.7"/>
<path d="M1780.3 1057.8l32.7 32.7M1780.3 1090.5l32.7 -32.7"/>
<path d="M1807.2 1056.8l32.7 32.7M1807.2 1089.5l32.7 -32.7"/>
</g>
<g stroke="#ff00ff" fill="none" stroke-width="6.0">
<polyline stroke-width="5.0" points="212.5,1173.9 239.3,1172.9 266.2,1170.1 293.1,1162.6 319.9,1157.8 346.8,1155.1 373.6,1157.8 400.4,1166.1 427.3,1175.7 454.1,1181.1 481,1181.7 507.9,1177.7 534.7,1172.2 561.5,1166.7 588.4,1163.9 615.2,1161.3 642.1,1159.9 669,1157.1 695.8,1155.9 722.6,1155.1 749.5,1154.3 776.4,1153.3 803.2,1152.3 830,1151.4 856.9,1150.9 883.8,1150.9 910.6,1150.9 937.5,1151.8 964.3,1153.9 991.1,1158.4 1018,1170.9 1044.8,1178.4 1071.7,1175 1098.5,1172.9 1125.4,1174.9 1152.2,1171.5 1179.1,1168.8 1206,1165.3 1232.8,1162.6 1259.7,1161.3 1286.5,1159.9 1313.3,1156.9 1340.2,1153.9 1367,1151.7 1393.9,1149.9 1420.8,1147.9 1447.6,1090 1474.5,1145.7 1501.3,1095 1528.2,1087.2 1555,1096 1581.8,1096 1608.7,1094.8 1635.5,1084.8 1662.4,1088.8 1689.2,1086.8 1716.1,1087.4 1743,1087.4 1769.8,1087.4 1796.7,1087.4 1823.5,1087.4"/>
<circle cx="212.5" cy="1173.9" r="23.2" stroke-width="5.6"/>
<circle cx="239.3" cy="1172.9" r="23.2" stroke-width="5.6"/>
<circle cx="266.2" cy="1170.1" r="23.2" stroke-width="5.6"/>
<circle cx="293.1" cy="1162.6" r="23.2" stroke-width="5.6"/>
<circle cx="319.9" cy="1157.8" r="23.2" stroke-width="5.6"/>
<circle cx="346.8" cy="1155.1" r="23.2" stroke-width="5.6"/>
<circle cx="373.6" cy="1157.8" r="23.2" stroke-width="5.6"/>
<circle cx="400.4" cy="1166.1" r="23.2" stroke-width="5.6"/>
<circle cx="427.3" cy="1175.7" r="23.2" stroke-width="5.6"/>
<circle cx="454.1" cy="1181.1" r="23.2" stroke-width="5.6"/>
<circle cx="481" cy="1181.7" r="23.2" stroke-width="5.6"/>
<circle cx="507.9" cy="1177.7" r="23.2" stroke-width="5.6"/>
<circle cx="534.7" cy="1172.2" r="23.2" stroke-width="5.6"/>
<circle cx="561.5" cy="1166.7" r="23.2" stroke-width="5.6"/>
<circle cx="588.4" cy="1163.9" r="23.2" stroke-width="5.6"/>
<circle cx="615.2" cy="1161.3" r="23.2" stroke-width="5.6"/>
<circle cx="642.1" cy="1159.9" r="23.2" stroke-width="5.6"/>
<circle cx="669" cy="1157.1" r="23.2" stroke-width="5.6"/>
<circle cx="695.8" cy="1155.9" r="23.2" stroke-width="5.6"/>
<circle cx="722.6" cy="1155.1" r="23.2" stroke-width="5.6"/>
<circle cx="749.5" cy="1154.3" r="23.2" stroke-width="5.6"/>
<circle cx="776.4" cy="1153.3" r="23.2" stroke-width="5.6"/>
<circle cx="803.2" cy="1152.3" r="23.2" stroke-width="5.6"/>
<circle cx="830" cy="1151.4" r="23.2" stroke-width="5.6"/>
<circle cx="856.9" cy="1150.9" r="23.2" stroke-width="5.6"/>
<circle cx="883.8" cy="1150.9" r="23.2" stroke-width="5.6"/>
<circle cx="910.6" cy="1150.9" r="23.2" stroke-width="5.6"/>
<circle cx="937.5" cy="1151.8" r="23.2" stroke-width="5.6"/>
<circle cx="964.3" cy="1153.9" r="23.2" stroke-width="5.6"/>
<circle cx="991.1" cy="1158.4" r="23.2" stroke-width="5.6"/>
<circle cx="1018" cy="1170.9" r="23.2" stroke-width="5.6"/>
<circle cx="1044.8" cy="1178.4" r="23.2" stroke-width="5.6"/>
<circle cx="1071.7" cy="1175" r="23.2" stroke-width="5.6"/>
<circle cx="1098.5" cy="1172.9" r="23.2" stroke-width="5.6"/>
<circle cx="1125.4" cy="1174.9" r="23.2" stroke-width="5.6"/>
<circle cx="1152.2" cy="1171.5" r="23.2" stroke-width="5.6"/>
<circle cx="1179.1" cy="1168.8" r="23.2" stroke-width="5.6"/>
<circle cx="1206" cy="1165.3" r="23.2" stroke-width="5.6"/>
<circle cx="1232.8" cy="1162.6" r="23.2" stroke-width="5.6"/>
<circle cx="1259.7" cy="1161.3" r="23.2" stroke-width="5.6"/>
<circle cx="1286.5" cy="1159.9" r="23.2" stroke-width="5.6"/>
<circle cx="1313.3" cy="1156.9" r="23.2" stroke-width="5.6"/>
<circle cx="1340.2" cy="1153.9" r="23.2" stroke-width="5.6"/>
<circle cx="1367" cy="1151.7" r="23.2" stroke-width="5.6"/>
<circle cx="1393.9" cy="1149.9" r="23.2" stroke-width="5.6"/>
<circle cx="1420.8" cy="1147.9" r="23.2" stroke-width="5.6"/>
<circle cx="1447.6" cy="1090" r="23.2" stroke-width="5.6"/>
<circle cx="1474.5" cy="1145.7" r="23.2" stroke-width="5.6"/>
<circle cx="1501.3" cy="1095" r="23.2" stroke-width="5.6"/>
<circle cx="1528.2" cy="1087.2" r="23.2" stroke-width="5.6"/>
<circle cx="1555" cy="1096" r="23.2" stroke-width="5.6"/>
<circle cx="1581.8" cy="1096" r="23.2" stroke-width="5.6"/>
<circle cx="1608.7" cy="1094.8" r="23.2" stroke-width="5.6"/>
<circle cx="1635.5" cy="1084.8" r="23.2" stroke-width="5.6"/>
<circle cx="1662.4" cy="1088.8" r="23.2" stroke-width="5.6"/>
<circle cx="1689.2" cy="1086.8" r="23.2" stroke-width="5.6"/>
<circle cx="1716.1" cy="1087.4" r="23.2" stroke-width="5.6"/>
<circle cx="1743" cy="1087.4" r="23.2" stroke-width="5.6"/>
<circle cx="1769.8" cy="1087.4" r="23.2" stroke-width="5.6"/>
<circle cx="1796.7" cy="1087.4" r="23.2" stroke-width="5.6"/>
<circle cx="1823.5" cy="1087.4" r="23.2" stroke-width="5.6"/>
</g>
<g stroke="#0000ff" fill="none" stroke-width="6.0">
<polyline stroke-width="5.0" points="212.5,1201.7 239.3,1208.5 266.2,1208.5 293.1,1208.5 319.9,1208.5 346.8,1208.5 373.6,1203.5 400.4,1199.3 427.3,1197.9 454.1,1196.7 481,1190.9 507.9,1188.3 534.7,1184.3 561.5,1180.1 588.4,1179.5 615.2,1177.5 642.1,1177.2 669,1177.1 695.8,1176.9 722.6,1175.8 749.5,1174.9 776.4,1174.9 803.2,1171.3 830,1171.3 856.9,1174.9 883.8,1175.5 910.6,1176.9 937.5,1180.1 964.3,1182.9 991.1,1183.5 1018,1184.3 1044.8,1179.5 1071.7,1171.3 1098.5,1172.7 1125.4,1172.7 1152.2,1167.1 1179.1,1162.3 1206,1157.5 1232.8,1155.5 1259.7,1152.7 1286.5,1151.3 1313.3,1150 1340.2,1148.7 1367,1147.4 1393.9,1146.1 1420.8,1144.9 1447.6,1080.4 1474.5,1142.9 1501.3,1085.2 1528.2,1069.4 1555,1086.4 1581.8,1086.8 1608.7,1085.2 1635.5,1072.8 1662.4,1075.8 1689.2,1074.4 1716.1,1074.8 1743,1074.8 1769.8,1075.2 1796.7,1073.6 1823.5,1069.8"/>
<path d="M189.1 1201.7h46.8M212.5 1178.3v46.8"/>
<path d="M215.9 1208.5h46.8M239.3 1185.1v46.8"/>
<path d="M242.8 1208.5h46.8M266.2 1185.1v46.8"/>
<path d="M269.7 1208.5h46.8M293.1 1185.1v46.8"/>
<path d="M296.5 1208.5h46.8M319.9 1185.1v46.8"/>
<path d="M323.4 1208.5h46.8M346.8 1185.1v46.8"/>
<path d="M350.2 1203.5h46.8M373.6 1180.1v46.8"/>
<path d="M377.1 1199.3h46.8M400.4 1175.9v46.8"/>
<path d="M403.9 1197.9h46.8M427.3 1174.5v46.8"/>
<path d="M430.8 1196.7h46.8M454.1 1173.3v46.8"/>
<path d="M457.6 1190.9h46.8M481 1167.5v46.8"/>
<path d="M484.5 1188.3h46.8M507.9 1164.9v46.8"/>
<path d="M511.3 1184.3h46.8M534.7 1160.9v46.8"/>
<path d="M538.1 1180.1h46.8M561.5 1156.7v46.8"/>
<path d="M565 1179.5h46.8M588.4 1156.1v46.8"/>
<path d="M591.9 1177.5h46.8M615.2 1154.1v46.8"/>
<path d="M618.7 1177.2h46.8M642.1 1153.8v46.8"/>
<path d="M645.6 1177.1h46.8M669 1153.7v46.8"/>
<path d="M672.4 1176.9h46.8M695.8 1153.5v46.8"/>
<path d="M699.2 1175.8h46.8M722.6 1152.4v46.8"/>
<path d="M726.1 1174.9h46.8M749.5 1151.5v46.8"/>
<path d="M753 1174.9h46.8M776.4 1151.5v46.8"/>
<path d="M779.8 1171.3h46.8M803.2 1147.9v46.8"/>
<path d="M806.6 1171.3h46.8M830 1147.9v46.8"/>
<path d="M833.5 1174.9h46.8M856.9 1151.5v46.8"/>
<path d="M860.4 1175.5h46.8M883.8 1152.1v46.8"/>
<path d="M887.2 1176.9h46.8M910.6 1153.5v46.8"/>
<path d="M914.1 1180.1h46.8M937.5 1156.7v46.8"/>
<path d="M940.9 1182.9h46.8M964.3 1159.5v46.8"/>
<path d="M967.8 1183.5h46.8M991.1 1160.1v46.8"/>
<path d="M994.6 1184.3h46.8M1018 1160.9v46.8"/>
<path d="M1021.4 1179.5h46.8M1044.8 1156.1v46.8"/>
<path d="M1048.3 1171.3h46.8M1071.7 1147.9v46.8"/>
<path d="M1075.1 1172.7h46.8M1098.5 1149.3v46.8"/>
<path d="M1102 1172.7h46.8M1125.4 1149.3v46.8"/>
<path d="M1128.8 1167.1h46.8M1152.2 1143.7v46.8"/>
<path d="M1155.7 1162.3h46.8M1179.1 1138.9v46.8"/>
<path d="M1182.5 1157.5h46.8M1206 1134.1v46.8"/>
<path d="M1209.4 1155.5h46.8M1232.8 1132.1v46.8"/>
<path d="M1236.2 1152.7h46.8M1259.7 1129.3v46.8"/>
<path d="M1263.1 1151.3h46.8M1286.5 1127.9v46.8"/>
<path d="M1289.9 1150h46.8M1313.3 1126.6v46.8"/>
<path d="M1316.8 1148.7h46.8M1340.2 1125.3v46.8"/>
<path d="M1343.6 1147.4h46.8M1367 1124v46.8"/>
<path d="M1370.5 1146.1h46.8M1393.9 1122.7v46.8"/>
<path d="M1397.3 1144.9h46.8M1420.8 1121.5v46.8"/>
<path d="M1424.2 1080.4h46.8M1447.6 1057v46.8"/>
<path d="M1451 1142.9h46.8M1474.5 1119.5v46.8"/>
<path d="M1477.9 1085.2h46.8M1501.3 1061.8v46.8"/>
<path d="M1504.8 1069.4h46.8M1528.2 1046v46.8"/>
<path d="M1531.6 1086.4h46.8M1555 1063v46.8"/>
<path d="M1558.4 1086.8h46.8M1581.8 1063.4v46.8"/>
<path d="M1585.3 1085.2h46.8M1608.7 1061.8v46.8"/>
<path d="M1612.1 1072.8h46.8M1635.5 1049.4v46.8"/>
<path d="M1639 1075.8h46.8M1662.4 1052.4v46.8"/>
<path d="M1665.8 1074.4h46.8M1689.2 1051v46.8"/>
<path d="M1692.7 1074.8h46.8M1716.1 1051.4v46.8"/>
<path d="M1719.5 1074.8h46.8M1743 1051.4v46.8"/>
<path d="M1746.4 1075.2h46.8M1769.8 1051.8v46.8"/>
<path d="M1773.2 1073.6h46.8M1796.7 1050.2v46.8"/>
<path d="M1800.1 1069.8h46.8M1823.5 1046.4v46.8"/>
</g>
<g stroke="#ff0000" fill="none" stroke-width="6.0">
<polyline stroke-width="5.0" points="212.5,1227.6 239.3,1229 266.2,1224.2 293.1,1224.2 319.9,1222.8 346.8,1221.4 373.6,1220 400.4,1218.6 427.3,1218 454.1,1218 481,1218 507.9,1215 534.7,1206.9 561.5,1205.9 588.4,1205.9 615.2,1205.9 642.1,1206.9 669,1206.9 695.8,1205.5 722.6,1208.9 749.5,1206.9 776.4,1205.9 803.2,1204.8 830,1204.1 856.9,1206.2 883.8,1208.9 910.6,1210.9 937.5,1210.9 964.3,1208.2 991.1,1200 1018,1195.9 1044.8,1190.4 1071.7,1184.2 1098.5,1180.9 1125.4,1179.5 1152.2,1174.9 1179.1,1171.9 1206,1168.3 1232.8,1164.9 1259.7,1162.2 1286.5,1159.9 1313.3,1157.5 1340.2,1155.3 1367,1153 1393.9,1150.9 1420.8,1148.9 1447.6,1094.8 1474.5,1145.9 1501.3,1096.8 1528.2,1078.8 1555,1098.8 1581.8,1098.8 1608.7,1097.8 1635.5,1082.8 1662.4,1088.8 1689.2,1086.8 1716.1,1086.8 1743,1086.8 1769.8,1084.8 1796.7,1084.8 1823.5,1084.8"/>
<path d="M189.1 1227.6h46.8M212.5 1204.2v46.8M196.2 1211.2l32.7 32.7M196.2 1243.9l32.7 -32.7"/>
<path d="M215.9 1229h46.8M239.3 1205.6v46.8M223 1212.6l32.7 32.7M223 1245.3l32.7 -32.7"/>
<path d="M242.8 1224.2h46.8M266.2 1200.8v46.8M249.9 1207.8l32.7 32.7M249.9 1240.5l32.7 -32.7"/>
<path d="M269.7 1224.2h46.8M293.1 1200.8v46.8M276.7 1207.8l32.7 32.7M276.7 1240.5l32.7 -32.7"/>
<path d="M296.5 1222.8h46.8M319.9 1199.4v46.8M303.6 1206.4l32.7 32.7M303.6 1239.1l32.7 -32.7"/>
<path d="M323.4 1221.4h46.8M346.8 1198v46.8M330.4 1205l32.7 32.7M330.4 1237.7l32.7 -32.7"/>
<path d="M350.2 1220h46.8M373.6 1196.6v46.8M357.3 1203.6l32.7 32.7M357.3 1236.3l32.7 -32.7"/>
<path d="M377.1 1218.6h46.8M400.4 1195.2v46.8M384.1 1202.2l32.7 32.7M384.1 1234.9l32.7 -32.7"/>
<path d="M403.9 1218h46.8M427.3 1194.6v46.8M411 1201.6l32.7 32.7M411 1234.3l32.7 -32.7"/>
<path d="M430.8 1218h46.8M454.1 1194.6v46.8M437.8 1201.6l32.7 32.7M437.8 1234.3l32.7 -32.7"/>
<path d="M457.6 1218h46.8M481 1194.6v46.8M464.7 1201.6l32.7 32.7M464.7 1234.3l32.7 -32.7"/>
<path d="M484.5 1215h46.8M507.9 1191.5v46.8M491.5 1198.6l32.7 32.7M491.5 1231.3l32.7 -32.7"/>
<path d="M511.3 1206.9h46.8M534.7 1183.5v46.8M518.4 1190.6l32.7 32.7M518.4 1223.3l32.7 -32.7"/>
<path d="M538.1 1205.9h46.8M561.5 1182.5v46.8M545.2 1189.6l32.7 32.7M545.2 1222.3l32.7 -32.7"/>
<path d="M565 1205.9h46.8M588.4 1182.5v46.8M572.1 1189.6l32.7 32.7M572.1 1222.3l32.7 -32.7"/>
<path d="M591.9 1205.9h46.8M615.2 1182.5v46.8M598.9 1189.6l32.7 32.7M598.9 1222.3l32.7 -32.7"/>
<path d="M618.7 1206.9h46.8M642.1 1183.5v46.8M625.8 1190.6l32.7 32.7M625.8 1223.3l32.7 -32.7"/>
<path d="M645.6 1206.9h46.8M669 1183.5v46.8M652.6 1190.6l32.7 32.7M652.6 1223.3l32.7 -32.7"/>
<path d="M672.4 1205.5h46.8M695.8 1182.1v46.8M679.5 1189.2l32.7 32.7M679.5 1221.9l32.7 -32.7"/>
<path d="M699.2 1208.9h46.8M722.6 1185.5v46.8M706.3 1192.6l32.7 32.7M706.3 1225.3l32.7 -32.7"/>
<path d="M726.1 1206.9h46.8M749.5 1183.5v46.8M733.2 1190.6l32.7 32.7M733.2 1223.3l32.7 -32.7"/>
<path d="M753 1205.9h46.8M776.4 1182.5v46.8M760 1189.6l32.7 32.7M760 1222.3l32.7 -32.7"/>
<path d="M779.8 1204.8h46.8M803.2 1181.4v46.8M786.9 1188.5l32.7 32.7M786.9 1221.2l32.7 -32.7"/>
<path d="M806.6 1204.1h46.8M830 1180.7v46.8M813.7 1187.8l32.7 32.7M813.7 1220.5l32.7 -32.7"/>
<path d="M833.5 1206.2h46.8M856.9 1182.8v46.8M840.6 1189.9l32.7 32.7M840.6 1222.5l32.7 -32.7"/>
<path d="M860.4 1208.9h46.8M883.8 1185.5v46.8M867.4 1192.6l32.7 32.7M867.4 1225.3l32.7 -32.7"/>
<path d="M887.2 1210.9h46.8M910.6 1187.5v46.8M894.3 1194.6l32.7 32.7M894.3 1227.3l32.7 -32.7"/>
<path d="M914.1 1210.9h46.8M937.5 1187.5v46.8M921.1 1194.6l32.7 32.7M921.1 1227.3l32.7 -32.7"/>
<path d="M940.9 1208.2h46.8M964.3 1184.8v46.8M948 1191.9l32.7 32.7M948 1224.6l32.7 -32.7"/>
<path d="M967.8 1200h46.8M991.1 1176.6v46.8M974.8 1183.7l32.7 32.7M974.8 1216.3l32.7 -32.7"/>
<path d="M994.6 1195.9h46.8M1018 1172.5v46.8M1001.7 1179.6l32.7 32.7M1001.7 1212.3l32.7 -32.7"/>
<path d="M1021.4 1190.4h46.8M1044.8 1167v46.8M1028.5 1174.1l32.7 32.7M1028.5 1206.7l32.7 -32.7"/>
<path d="M1048.3 1184.2h46.8M1071.7 1160.8v46.8M1055.4 1167.9l32.7 32.7M1055.4 1200.5l32.7 -32.7"/>
<path d="M1075.1 1180.9h46.8M1098.5 1157.5v46.8M1082.2 1164.6l32.7 32.7M1082.2 1197.2l32.7 -32.7"/>
<path d="M1102 1179.5h46.8M1125.4 1156.1v46.8M1109.1 1163.2l32.7 32.7M1109.1 1195.8l32.7 -32.7"/>
<path d="M1128.8 1174.9h46.8M1152.2 1151.5v46.8M1135.9 1158.6l32.7 32.7M1135.9 1191.2l32.7 -32.7"/>
<path d="M1155.7 1171.9h46.8M1179.1 1148.5v46.8M1162.8 1155.6l32.7 32.7M1162.8 1188.2l32.7 -32.7"/>
<path d="M1182.5 1168.3h46.8M1206 1144.9v46.8M1189.6 1152l32.7 32.7M1189.6 1184.7l32.7 -32.7"/>
<path d="M1209.4 1164.9h46.8M1232.8 1141.5v46.8M1216.5 1148.6l32.7 32.7M1216.5 1181.2l32.7 -32.7"/>
<path d="M1236.2 1162.2h46.8M1259.7 1138.8v46.8M1243.3 1145.9l32.7 32.7M1243.3 1178.6l32.7 -32.7"/>
<path d="M1263.1 1159.9h46.8M1286.5 1136.5v46.8M1270.2 1143.5l32.7 32.7M1270.2 1176.2l32.7 -32.7"/>
<path d="M1289.9 1157.5h46.8M1313.3 1134.1v46.8M1297 1141.2l32.7 32.7M1297 1173.9l32.7 -32.7"/>
<path d="M1316.8 1155.3h46.8M1340.2 1131.9v46.8M1323.9 1138.9l32.7 32.7M1323.9 1171.6l32.7 -32.7"/>
<path d="M1343.6 1153h46.8M1367 1129.6v46.8M1350.7 1136.7l32.7 32.7M1350.7 1169.4l32.7 -32.7"/>
<path d="M1370.5 1150.9h46.8M1393.9 1127.5v46.8M1377.6 1134.6l32.7 32.7M1377.6 1167.2l32.7 -32.7"/>
<path d="M1397.3 1148.9h46.8M1420.8 1125.5v46.8M1404.4 1132.5l32.7 32.7M1404.4 1165.2l32.7 -32.7"/>
<path d="M1424.2 1094.8h46.8M1447.6 1071.4v46.8M1431.3 1078.5l32.7 32.7M1431.3 1111.1l32.7 -32.7"/>
<path d="M1451 1145.9h46.8M1474.5 1122.5v46.8M1458.1 1129.5l32.7 32.7M1458.1 1162.2l32.7 -32.7"/>
<path d="M1477.9 1096.8h46.8M1501.3 1073.4v46.8M1485 1080.5l32.7 32.7M1485 1113.1l32.7 -32.7"/>
<path d="M1504.8 1078.8h46.8M1528.2 1055.4v46.8M1511.8 1062.4l32.7 32.7M1511.8 1095.1l32.7 -32.7"/>
<path d="M1531.6 1098.8h46.8M1555 1075.4v46.8M1538.7 1082.5l32.7 32.7M1538.7 1115.1l32.7 -32.7"/>
<path d="M1558.4 1098.8h46.8M1581.8 1075.4v46.8M1565.5 1082.5l32.7 32.7M1565.5 1115.1l32.7 -32.7"/>
<path d="M1585.3 1097.8h46.8M1608.7 1074.4v46.8M1592.4 1081.5l32.7 32.7M1592.4 1114.1l32.7 -32.7"/>
<path d="M1612.1 1082.8h46.8M1635.5 1059.4v46.8M1619.2 1066.5l32.7 32.7M1619.2 1099.1l32.7 -32.7"/>
<path d="M1639 1088.8h46.8M1662.4 1065.4v46.8M1646.1 1072.5l32.7 32.7M1646.1 1105.1l32.7 -32.7"/>
<path d="M1665.8 1086.8h46.8M1689.2 1063.4v46.8M1672.9 1070.5l32.7 32.7M1672.9 1103.1l32.7 -32.7"/>
<path d="M1692.7 1086.8h46.8M1716.1 1063.4v46.8M1699.8 1070.5l32.7 32.7M1699.8 1103.1l32.7 -32.7"/>
<path d="M1719.5 1086.8h46.8M1743 1063.4v46.8M1726.6 1070.5l32.7 32.7M1726.6 1103.1l32.7 -32.7"/>
<path d="M1746.4 1084.8h46.8M1769.8 1061.4v46.8M1753.5 1068.5l32.7 32.7M1753.5 1101.1l32.7 -32.7"/>
<path d="M1773.2 1084.8h46.8M1796.7 1061.4v46.8M1780.3 1068.5l32.7 32.7M1780.3 1101.1l32.7 -32.7"/>
<path d="M1800.1 1084.8h46.8M1823.5 1061.4v46.8M1807.2 1068.5l32.7 32.7M1807.2 1101.1l32.7 -32.7"/>
</g>
<g stroke="#000000" fill="none" stroke-width="6.0">
<polyline stroke-width="5.0" points="212.5,1246.4 239.3,1247 266.2,1247 293.1,1242.2 319.9,1242.6 346.8,1242.2 373.6,1240.2 400.4,1237.4 427.3,1239.6 454.1,1239.6 481,1238.2 507.9,1237.4 534.7,1237.4 561.5,1236.7 588.4,1236.1 615.2,1236.1 642.1,1236.1 669,1235.7 695.8,1235.4 722.6,1238.2 749.5,1236.1 776.4,1235 803.2,1234 830,1232.6 856.9,1231.2 883.8,1231.2 910.6,1231.2 937.5,1226.4 964.3,1219.6 991.1,1212.6 1018,1207.1 1044.8,1201.9 1071.7,1192.7 1098.5,1187.5 1125.4,1183.2 1152.2,1176.3 1179.1,1170.9 1206,1165.3 1232.8,1161.3 1259.7,1158.5 1286.5,1154.3 1313.3,1147.5 1340.2,1146.3 1367,1145.5 1393.9,1145 1420.8,1144.9 1447.6,1103.4 1474.5,1141.3 1501.3,1105.4 1528.2,1073.6 1555,1104.4 1581.8,1104.4 1608.7,1102.2 1635.5,1082.8 1662.4,1093 1689.2,1085.2 1716.1,1086.8 1743,1088.2 1769.8,1086 1796.7,1084.4 1823.5,1082.8"/>
<rect x="194.1" y="1227.9" width="36.9" height="36.9"/>
<rect x="220.9" y="1228.5" width="36.9" height="36.9"/>
<rect x="247.8" y="1228.5" width="36.9" height="36.9"/>
<rect x="274.6" y="1223.7" width="36.9" height="36.9"/>
<rect x="301.4" y="1224.1" width="36.9" height="36.9"/>
<rect x="328.3" y="1223.7" width="36.9" height="36.9"/>
<rect x="355.2" y="1221.7" width="36.9" height="36.9"/>
<rect x="382" y="1218.9" width="36.9" height="36.9"/>
<rect x="408.9" y="1221.1" width="36.9" height="36.9"/>
<rect x="435.7" y="1221.1" width="36.9" height="36.9"/>
<rect x="462.6" y="1219.7" width="36.9" height="36.9"/>
<rect x="489.4" y="1218.9" width="36.9" height="36.9"/>
<rect x="516.2" y="1218.9" width="36.9" height="36.9"/>
<rect x="543.1" y="1218.3" width="36.9" height="36.9"/>
<rect x="569.9" y="1217.6" width="36.9" height="36.9"/>
<rect x="596.8" y="1217.6" width="36.9" height="36.9"/>
<rect x="623.6" y="1217.6" width="36.9" height="36.9"/>
<rect x="650.5" y="1217.3" width="36.9" height="36.9"/>
<rect x="677.3" y="1216.9" width="36.9" height="36.9"/>
<rect x="704.2" y="1219.7" width="36.9" height="36.9"/>
<rect x="731" y="1217.6" width="36.9" height="36.9"/>
<rect x="757.9" y="1216.5" width="36.9" height="36.9"/>
<rect x="784.8" y="1215.5" width="36.9" height="36.9"/>
<rect x="811.6" y="1214.1" width="36.9" height="36.9"/>
<rect x="838.4" y="1212.7" width="36.9" height="36.9"/>
<rect x="865.3" y="1212.7" width="36.9" height="36.9"/>
<rect x="892.1" y="1212.7" width="36.9" height="36.9"/>
<rect x="919" y="1207.9" width="36.9" height="36.9"/>
<rect x="945.8" y="1201.1" width="36.9" height="36.9"/>
<rect x="972.7" y="1194.2" width="36.9" height="36.9"/>
<rect x="999.5" y="1188.7" width="36.9" height="36.9"/>
<rect x="1026.4" y="1183.5" width="36.9" height="36.9"/>
<rect x="1053.2" y="1174.3" width="36.9" height="36.9"/>
<rect x="1080.1" y="1169.1" width="36.9" height="36.9"/>
<rect x="1107" y="1164.8" width="36.9" height="36.9"/>
<rect x="1133.8" y="1157.9" width="36.9" height="36.9"/>
<rect x="1160.6" y="1152.4" width="36.9" height="36.9"/>
<rect x="1187.5" y="1146.8" width="36.9" height="36.9"/>
<rect x="1214.3" y="1142.8" width="36.9" height="36.9"/>
<rect x="1241.2" y="1140" width="36.9" height="36.9"/>
<rect x="1268" y="1135.8" width="36.9" height="36.9"/>
<rect x="1294.9" y="1129" width="36.9" height="36.9"/>
<rect x="1321.8" y="1127.8" width="36.9" height="36.9"/>
<rect x="1348.6" y="1127" width="36.9" height="36.9"/>
<rect x="1375.5" y="1126.6" width="36.9" height="36.9"/>
<rect x="1402.3" y="1126.4" width="36.9" height="36.9"/>
<rect x="1429.1" y="1085" width="36.9" height="36.9"/>
<rect x="1456" y="1122.8" width="36.9" height="36.9"/>
<rect x="1482.8" y="1087" width="36.9" height="36.9"/>
<rect x="1509.7" y="1055.1" width="36.9" height="36.9"/>
<rect x="1536.5" y="1086" width="36.9" height="36.9"/>
<rect x="1563.4" y="1086" width="36.9" height="36.9"/>
<rect x="1590.2" y="1083.8" width="36.9" height="36.9"/>
<rect x="1617.1" y="1064.3" width="36.9" height="36.9"/>
<rect x="1644" y="1074.5" width="36.9" height="36.9"/>
<rect x="1670.8" y="1066.7" width="36.9" height="36.9"/>
<rect x="1697.6" y="1068.3" width="36.9" height="36.9"/>
<rect x="1724.5" y="1069.7" width="36.9" height="36.9"/>
<rect x="1751.3" y="1067.5" width="36.9" height="36.9"/>
<rect x="1778.2" y="1065.9" width="36.9" height="36.9"/>
<rect x="1805" y="1064.3" width="36.9" height="36.9"/>
</g>
<g stroke="#00ff00" fill="none" stroke-width="6.0">
<polyline stroke-width="5.0" points="212.5,1268.2 239.3,1270 266.2,1271 293.1,1271 319.9,1271 346.8,1271 373.6,1271 400.4,1271.2 427.3,1271.4 454.1,1271.7 481,1271.9 507.9,1267.8 534.7,1265 561.5,1264.4 588.4,1263.8 615.2,1263.7 642.1,1263.6 669,1263.6 695.8,1263.6 722.6,1263.6 749.5,1263.6 776.4,1262.6 803.2,1260.8 830,1257.4 856.9,1256 883.8,1252 910.6,1249.2 937.5,1243.7 964.3,1238.2 991.1,1228.6 1018,1221.8 1044.8,1213.5 1071.7,1204.5 1098.5,1196.1 1125.4,1190.6 1152.2,1185.1 1179.1,1179.7 1206,1174.1 1232.8,1168.7 1259.7,1164.5 1286.5,1160.5 1313.3,1156.3 1340.2,1154.1 1367,1152.4 1393.9,1151.3 1420.8,1150.9 1447.6,1128 1474.5,1145.5 1501.3,1126.8 1528.2,1084.2 1555,1121.4 1581.8,1120.2 1608.7,1119.2 1635.5,1090.2 1662.4,1098 1689.2,1092.8 1716.1,1091.8 1743,1091.8 1769.8,1090.8 1796.7,1090.4 1823.5,1090.2"/>
<path d="M196.2 1251.9l32.7 32.7M196.2 1284.6l32.7 -32.7"/>
<path d="M223 1253.7l32.7 32.7M223 1286.4l32.7 -32.7"/>
<path d="M249.9 1254.7l32.7 32.7M249.9 1287.4l32.7 -32.7"/>
<path d="M276.7 1254.7l32.7 32.7M276.7 1287.4l32.7 -32.7"/>
<path d="M303.6 1254.7l32.7 32.7M303.6 1287.4l32.7 -32.7"/>
<path d="M330.4 1254.7l32.7 32.7M330.4 1287.4l32.7 -32.7"/>
<path d="M357.3 1254.7l32.7 32.7M357.3 1287.4l32.7 -32.7"/>
<path d="M384.1 1254.8l32.7 32.7M384.1 1287.5l32.7 -32.7"/>
<path d="M411 1255.1l32.7 32.7M411 1287.8l32.7 -32.7"/>
<path d="M437.8 1255.4l32.7 32.7M437.8 1288.1l32.7 -32.7"/>
<path d="M464.7 1255.6l32.7 32.7M464.7 1288.3l32.7 -32.7"/>
<path d="M491.5 1251.5l32.7 32.7M491.5 1284.2l32.7 -32.7"/>
<path d="M518.4 1248.7l32.7 32.7M518.4 1281.3l32.7 -32.7"/>
<path d="M545.2 1248.1l32.7 32.7M545.2 1280.7l32.7 -32.7"/>
<path d="M572.1 1247.5l32.7 32.7M572.1 1280.1l32.7 -32.7"/>
<path d="M598.9 1247.3l32.7 32.7M598.9 1280l32.7 -32.7"/>
<path d="M625.8 1247.3l32.7 32.7M625.8 1279.9l32.7 -32.7"/>
<path d="M652.6 1247.3l32.7 32.7M652.6 1279.9l32.7 -32.7"/>
<path d="M679.5 1247.3l32.7 32.7M679.5 1279.9l32.7 -32.7"/>
<path d="M706.3 1247.3l32.7 32.7M706.3 1279.9l32.7 -32.7"/>
<path d="M733.2 1247.3l32.7 32.7M733.2 1279.9l32.7 -32.7"/>
<path d="M760 1246.3l32.7 32.7M760 1278.9l32.7 -32.7"/>
<path d="M786.9 1244.5l32.7 32.7M786.9 1277.1l32.7 -32.7"/>
<path d="M813.7 1241.1l32.7 32.7M813.7 1273.7l32.7 -32.7"/>
<path d="M840.6 1239.7l32.7 32.7M840.6 1272.3l32.7 -32.7"/>
<path d="M867.4 1235.7l32.7 32.7M867.4 1268.3l32.7 -32.7"/>
<path d="M894.3 1232.9l32.7 32.7M894.3 1265.5l32.7 -32.7"/>
<path d="M921.1 1227.4l32.7 32.7M921.1 1260l32.7 -32.7"/>
<path d="M948 1221.8l32.7 32.7M948 1254.5l32.7 -32.7"/>
<path d="M974.8 1212.2l32.7 32.7M974.8 1244.9l32.7 -32.7"/>
<path d="M1001.7 1205.4l32.7 32.7M1001.7 1238.1l32.7 -32.7"/>
<path d="M1028.5 1197.2l32.7 32.7M1028.5 1229.9l32.7 -32.7"/>
<path d="M1055.4 1188.2l32.7 32.7M1055.4 1220.9l32.7 -32.7"/>
<path d="M1082.2 1179.8l32.7 32.7M1082.2 1212.5l32.7 -32.7"/>
<path d="M1109.1 1174.3l32.7 32.7M1109.1 1207l32.7 -32.7"/>
<path d="M1135.9 1168.8l32.7 32.7M1135.9 1201.4l32.7 -32.7"/>
<path d="M1162.8 1163.4l32.7 32.7M1162.8 1196l32.7 -32.7"/>
<path d="M1189.6 1157.8l32.7 32.7M1189.6 1190.4l32.7 -32.7"/>
<path d="M1216.5 1152.4l32.7 32.7M1216.5 1185l32.7 -32.7"/>
<path d="M1243.3 1148.2l32.7 32.7M1243.3 1180.8l32.7 -32.7"/>
<path d="M1270.2 1144.1l32.7 32.7M1270.2 1176.8l32.7 -32.7"/>
<path d="M1297 1139.9l32.7 32.7M1297 1172.6l32.7 -32.7"/>
<path d="M1323.9 1137.8l32.7 32.7M1323.9 1170.5l32.7 -32.7"/>
<path d="M1350.7 1136.1l32.7 32.7M1350.7 1168.8l32.7 -32.7"/>
<path d="M1377.6 1135l32.7 32.7M1377.6 1167.6l32.7 -32.7"/>
<path d="M1404.4 1134.5l32.7 32.7M1404.4 1167.2l32.7 -32.7"/>
<path d="M1431.3 1111.7l32.7 32.7M1431.3 1144.4l32.7 -32.7"/>
<path d="M1458.1 1129.1l32.7 32.7M1458.1 1161.8l32.7 -32.7"/>
<path d="M1485 1110.5l32.7 32.7M1485 1143.2l32.7 -32.7"/>
<path d="M1511.8 1067.9l32.7 32.7M1511.8 1100.5l32.7 -32.7"/>
<path d="M1538.7 1105.1l32.7 32.7M1538.7 1137.8l32.7 -32.7"/>
<path d="M1565.5 1103.9l32.7 32.7M1565.5 1136.6l32.7 -32.7"/>
<path d="M1592.4 1102.9l32.7 32.7M1592.4 1135.6l32.7 -32.7"/>
<path d="M1619.2 1073.9l32.7 32.7M1619.2 1106.5l32.7 -32.7"/>
<path d="M1646.1 1081.7l32.7 32.7M1646.1 1114.3l32.7 -32.7"/>
<path d="M1672.9 1076.5l32.7 32.7M1672.9 1109.1l32.7 -32.7"/>
<path d="M1699.8 1075.5l32.7 32.7M1699.8 1108.1l32.7 -32.7"/>
<path d="M1726.6 1075.5l32.7 32.7M1726.6 1108.1l32.7 -32.7"/>
<path d="M1753.5 1074.5l32.7 32.7M1753.5 1107.1l32.7 -32.7"/>
<path d="M1780.3 1074.1l32.7 32.7M1780.3 1106.7l32.7 -32.7"/>
<path d="M1807.2 1073.9l32.7 32.7M1807.2 1106.5l32.7 -32.7"/>
</g>
<rect x="1921.5" y="233.5" width="452.5" height="1241" fill="#fff" stroke="#262626" stroke-width="5.0"/>
<text x="2189.7" y="171.5" font-size="70" fill="#000" stroke="#000">x/c</text>
<g stroke="#ff0000" fill="none" stroke-width="6.0">
<circle cx="2060.3" cy="285" r="23.2" stroke-width="5.6"/>
</g>
<text x="2195.5" y="309.5" font-size="70" fill="#000" stroke="#000" letter-spacing="-0.8">0</text>
<g stroke="#000000" fill="none" stroke-width="6.0">
<path d="M2036.9 366.4h46.8M2060.3 343v46.8"/>
</g>
<text x="2195.5" y="390.9" font-size="70" fill="#000" stroke="#000" letter-spacing="-0.8">0.02</text>
<g stroke="#00ff00" fill="none" stroke-width="6.0">
<path d="M2036.9 447.7h46.8M2060.3 424.3v46.8M2044 431.4l32.7 32.7M2044 464l32.7 -32.7"/>
</g>
<text x="2195.5" y="472.2" font-size="70" fill="#000" stroke="#000" letter-spacing="-0.8">0.037</text>
<g stroke="#ffff00" fill="none" stroke-width="6.0">
<rect x="2041.9" y="510.6" width="36.9" height="36.9"/>
</g>
<text x="2195.5" y="553.5" font-size="70" fill="#000" stroke="#000" letter-spacing="-0.8">0.059</text>
<g stroke="#ff00ff" fill="none" stroke-width="6.0">
<path d="M2044 594.1l32.7 32.7M2044 626.7l32.7 -32.7"/>
</g>
<text x="2195.5" y="634.9" font-size="70" fill="#000" stroke="#000" letter-spacing="-0.8">0.076</text>
<g stroke="#0000ff" fill="none" stroke-width="6.0">
<circle cx="2060.3" cy="691.8" r="23.2" stroke-width="5.6"/>
</g>
<text x="2195.5" y="716.2" font-size="70" fill="#000" stroke="#000" letter-spacing="-0.8">0.099</text>
<g stroke="#ff0000" fill="none" stroke-width="6.0">
<path d="M2036.9 773.1h46.8M2060.3 749.7v46.8"/>
</g>
<text x="2195.5" y="797.6" font-size="70" fill="#000" stroke="#000" letter-spacing="-0.8">0.161</text>
<g stroke="#000000" fill="none" stroke-width="6.0">
<path d="M2036.9 854.4h46.8M2060.3 831v46.8M2044 838.1l32.7 32.7M2044 870.8l32.7 -32.7"/>
</g>
<text x="2195.5" y="878.9" font-size="70" fill="#000" stroke="#000" letter-spacing="-0.8">0.377</text>
<g stroke="#00ff00" fill="none" stroke-width="6.0">
<rect x="2041.9" y="917.3" width="36.9" height="36.9"/>
</g>
<text x="2195.5" y="960.3" font-size="70" fill="#000" stroke="#000" letter-spacing="-0.8">0.438</text>
<g stroke="#ffff00" fill="none" stroke-width="6.0">
<path stroke-width="5.0" d="M1944 1017.1H2177"/>
<path d="M2044 1000.8l32.7 32.7M2044 1033.5l32.7 -32.7"/>
</g>
<text x="2195.5" y="1041.7" font-size="70" fill="#000" stroke="#000" letter-spacing="-0.8">0.512</text>
<g stroke="#ff00ff" fill="none" stroke-width="6.0">
<path stroke-width="5.0" d="M1944 1098.5H2177"/>
<circle cx="2060.3" cy="1098.5" r="23.2" stroke-width="5.6"/>
</g>
<text x="2195.5" y="1123" font-size="70" fill="#000" stroke="#000" letter-spacing="-0.8">0.648</text>
<g stroke="#0000ff" fill="none" stroke-width="6.0">
<path stroke-width="5.0" d="M1944 1179.8H2177"/>
<path d="M2036.9 1179.8h46.8M2060.3 1156.4v46.8"/>
</g>
<text x="2195.5" y="1204.3" font-size="70" fill="#000" stroke="#000" letter-spacing="-0.8">0.718</text>
<g stroke="#ff0000" fill="none" stroke-width="6.0">
<path stroke-width="5.0" d="M1944 1261.2H2177"/>
<path d="M2036.9 1261.2h46.8M2060.3 1237.8v46.8M2044 1244.9l32.7 32.7M2044 1277.5l32.7 -32.7"/>
</g>
<text x="2195.5" y="1285.7" font-size="70" fill="#000" stroke="#000" letter-spacing="-0.8">0.791</text>
<g stroke="#000000" fill="none" stroke-width="6.0">
<path stroke-width="5.0" d="M1944 1342.5H2177"/>
<rect x="2041.9" y="1324.1" width="36.9" height="36.9"/>
</g>
<text x="2195.5" y="1367" font-size="70" fill="#000" stroke="#000" letter-spacing="-0.8">0.877</text>
<g stroke="#00ff00" fill="none" stroke-width="6.0">
<path stroke-width="5.0" d="M1944 1423.9H2177"/>
<path d="M2044 1407.6l32.7 32.7M2044 1440.2l32.7 -32.7"/>
</g>
<text x="2195.5" y="1448.4" font-size="70" fill="#000" stroke="#000" letter-spacing="-0.8">0.966</text>
</svg></body></html>
